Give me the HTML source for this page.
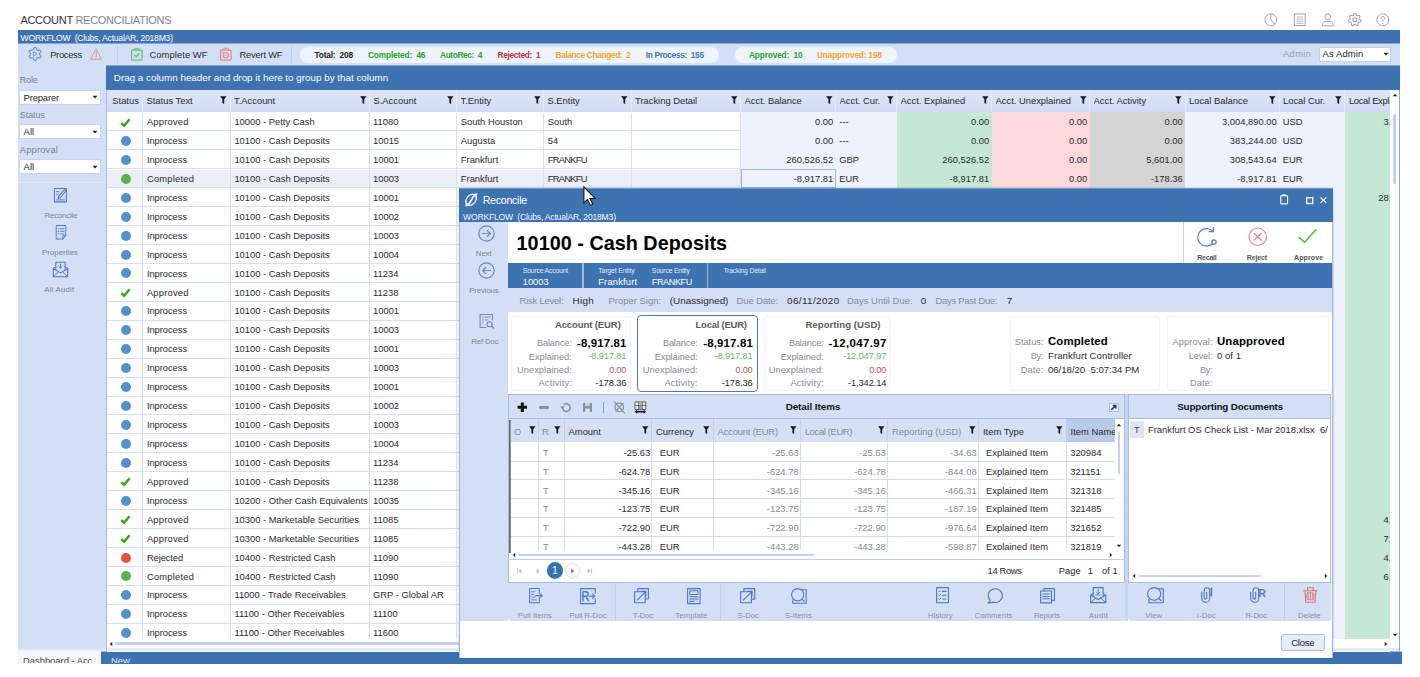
<!DOCTYPE html>
<html><head><meta charset="utf-8"><title>Account Reconciliations</title><style>
html,body{margin:0;padding:0;background:#fff;}
body{width:1420px;height:677px;position:relative;overflow:hidden;font-family:"Liberation Sans",sans-serif;}
div,svg{position:absolute;box-sizing:border-box;}
.t{white-space:nowrap;}
svg{overflow:visible;}
</style></head><body>
<div style="left:18px;top:30px;width:1382px;height:14px;background:#3d73b1;"></div>
<div style="left:18px;top:43px;width:1382px;height:1px;background:#88a9d3;"></div>
<div style="left:18px;top:44px;width:1382px;height:22px;background:#d3dff5;"></div>
<div style="left:18px;top:66px;width:88px;height:585px;background:#d3dff5;"></div>
<div style="left:106px;top:66px;width:1294px;height:24px;background:#3d73b1;"></div>
<div style="left:106px;top:65px;width:1294px;height:1px;background:#88a9d3;"></div>
<div style="left:18px;top:648.6px;width:88px;height:2.4px;background:#e6ecf9;"></div>
<div style="left:18px;top:651px;width:1384px;height:1px;background:#9db8d8;"></div>
<div style="left:18px;top:652px;width:1384px;height:11.8px;background:#3d73b1;"></div>
<div style="left:18px;top:651px;width:83px;height:12.8px;background:#f5f7fc;"></div>
<div class="t" style="left:20.4px;top:13.3px;height:14px;line-height:14px;font-size:11px;letter-spacing:-0.28px;color:#333">ACCOUNT <span style="color:#80858c">RECONCILIATIONS</span></div>
<svg style="left:1263.70px;top:13.20px" width="13.6" height="13.6" viewBox="0 0 16 16" preserveAspectRatio="none"><circle cx="8" cy="8" r="7" fill="none" stroke="#a0a0a0" stroke-width="1.1" stroke-linecap="round" stroke-linejoin="round"/><path d="M8 1 V8 L12.6 13.2" fill="none" stroke="#a0a0a0" stroke-width="1.1" stroke-linecap="round" stroke-linejoin="round"/></svg>
<svg style="left:1293.20px;top:13.20px" width="13.6" height="13.6" viewBox="0 0 16 16" preserveAspectRatio="none"><rect x="1.6" y="1.2" width="12.8" height="13.6" fill="none" stroke="#a0a0a0" stroke-width="1.2" stroke-linecap="round" stroke-linejoin="round"/><path d="M4.8 4.6H11.2M4.8 7.2H11.2M4.8 9.8H11.2M4.8 12.2H11.2" fill="none" stroke="#a0a0a0" stroke-width="0.9" stroke-linecap="round" stroke-linejoin="round"/></svg>
<svg style="left:1320.70px;top:13.20px" width="13.6" height="13.6" viewBox="0 0 16 16" preserveAspectRatio="none"><circle cx="8" cy="4.4" r="3.3" fill="none" stroke="#a0a0a0" stroke-width="1.1" stroke-linecap="round" stroke-linejoin="round"/><path d="M1.6 14.6 C1.6 10.6 4 9.8 8 9.8 S14.4 10.6 14.4 14.6Z" fill="none" stroke="#a0a0a0" stroke-width="1.1" stroke-linecap="round" stroke-linejoin="round"/></svg>
<svg style="left:1348.20px;top:13.20px" width="13.6" height="13.6" viewBox="0 0 16 16" preserveAspectRatio="none"><path d="M7.17 0.65 L8.83 0.65 L9.85 2.71 L10.98 3.26 L13.23 2.77 L14.27 4.06 L13.29 6.15 L13.56 7.37 L15.35 8.83 L14.98 10.44 L12.74 10.98 L11.96 11.96 L11.94 14.27 L10.44 14.98 L8.63 13.56 L7.37 13.56 L5.56 14.98 L4.06 14.27 L4.04 11.96 L3.26 10.98 L1.02 10.44 L0.65 8.83 L2.44 7.37 L2.71 6.15 L1.73 4.06 L2.77 2.77 L5.02 3.26 L6.15 2.71Z" fill="none" stroke="#a0a0a0" stroke-width="1.2" stroke-linecap="round" stroke-linejoin="round"/><circle cx="8" cy="8" r="2.3" fill="none" stroke="#a0a0a0" stroke-width="1.2" stroke-linecap="round" stroke-linejoin="round"/></svg>
<svg style="left:1376.20px;top:13.20px" width="13.6" height="13.6" viewBox="0 0 16 16" preserveAspectRatio="none"><circle cx="8" cy="8" r="7" fill="none" stroke="#a0a0a0" stroke-width="1.1" stroke-linecap="round" stroke-linejoin="round"/><path d="M5.6 6.2 C5.6 3.2 10.4 3.2 10.4 6.2 C10.4 8 8 7.8 8 10" fill="none" stroke="#a0a0a0" stroke-width="1.1" stroke-linecap="round" stroke-linejoin="round"/><circle cx="8" cy="12.2" r="0.8" fill="#a0a0a0"/></svg>
<div class="t" style="top:30.90px;height:14px;line-height:14px;font-size:8.6px;color:#fff;letter-spacing:-0.223px;left:20.6px;">WORKFLOW  (Clubs, ActualAR, 2018M3)</div>
<svg style="left:28.30px;top:47.00px" width="14" height="14" viewBox="0 0 16 16" preserveAspectRatio="none"><path d="M7.03 0.66 L8.97 0.66 L10.03 3.10 L11.23 3.80 L13.87 3.50 L14.84 5.17 L13.25 7.31 L13.25 8.69 L14.84 10.83 L13.87 12.50 L11.23 12.20 L10.03 12.90 L8.97 15.34 L7.03 15.34 L5.97 12.90 L4.77 12.20 L2.13 12.50 L1.16 10.83 L2.75 8.69 L2.75 7.31 L1.16 5.17 L2.13 3.50 L4.77 3.80 L5.97 3.10Z" fill="none" stroke="#7d92d2" stroke-width="1.3" stroke-linecap="round" stroke-linejoin="round"/><path d="M6.6 5.6 L10.4 8 L6.6 10.4Z" fill="none" stroke="#7d92d2" stroke-width="1.1" stroke-linecap="round" stroke-linejoin="round"/></svg>
<div class="t" style="top:47.70px;height:14px;line-height:14px;font-size:9.4px;color:#2b2b2b;letter-spacing:-0.329px;left:50.2px;">Process</div>
<svg style="left:89.80px;top:47.60px" width="12.4" height="12.4" viewBox="0 0 16 16" preserveAspectRatio="none"><path d="M8 1.5 L15 14.5 L1 14.5Z" fill="none" stroke="#e58d8d" stroke-width="1.1" stroke-linecap="round" stroke-linejoin="round"/><path d="M8 5.5V10.8" fill="none" stroke="#e58d8d" stroke-width="1.2" stroke-linecap="round" stroke-linejoin="round"/><circle cx="8" cy="12.6" r="0.7" fill="#e58d8d"/></svg>
<div style="left:117px;top:46px;width:1px;height:17px;background:#c3cfe8;"></div>
<svg style="left:129.50px;top:47.20px" width="13.6" height="13.6" viewBox="0 0 16 16" preserveAspectRatio="none"><rect x="1.8" y="3.6" width="12.4" height="11.8" rx="0.6" fill="none" stroke="#6cc46c" stroke-width="1.5" stroke-linecap="round" stroke-linejoin="round"/><path d="M5 3.6 V2.4 H6.6 A1.5 1.5 0 0 1 9.4 2.4 H11 V3.6" fill="none" stroke="#6cc46c" stroke-width="1.3" stroke-linecap="round" stroke-linejoin="round"/><path d="M5.4 9.8 L7.2 11.4 L10.6 8" fill="none" stroke="#6cc46c" stroke-width="1.7" stroke-linecap="round" stroke-linejoin="round"/></svg>
<div class="t" style="top:47.70px;height:14px;line-height:14px;font-size:9.4px;color:#2b2b2b;letter-spacing:0.069px;left:149.5px;">Complete WF</div>
<svg style="left:219.00px;top:47.20px" width="13.6" height="13.6" viewBox="0 0 16 16" preserveAspectRatio="none"><rect x="1.8" y="3.6" width="12.4" height="11.8" rx="0.6" fill="none" stroke="#e58d8d" stroke-width="1.5" stroke-linecap="round" stroke-linejoin="round"/><path d="M4.6 3.6 V2.4 H6.4 A1.7 1.7 0 0 1 9.6 2.4 H11.4 V3.6" fill="none" stroke="#e58d8d" stroke-width="1.3" stroke-linecap="round" stroke-linejoin="round"/><circle cx="8" cy="9.6" r="3.1" fill="none" stroke="#e58d8d" stroke-width="1.3" stroke-linecap="round" stroke-linejoin="round"/><path d="M6.6 9.4 L7.7 10.5 L9.5 8.6" fill="none" stroke="#e58d8d" stroke-width="1.1" stroke-linecap="round" stroke-linejoin="round"/><path d="M4.6 6.4 L5.6 7.4" fill="none" stroke="#e58d8d" stroke-width="1.2" stroke-linecap="round" stroke-linejoin="round"/></svg>
<div class="t" style="top:47.70px;height:14px;line-height:14px;font-size:9.4px;color:#2b2b2b;letter-spacing:-0.225px;left:239.5px;">Revert WF</div>
<div style="left:291px;top:46px;width:1px;height:17px;background:#c3cfe8;"></div>
<div style="left:300px;top:46.5px;width:419px;height:16px;background:#eff3fc;border-radius:8px;"></div>
<div style="left:734.5px;top:46.5px;width:162.5px;height:16px;background:#eff3fc;border-radius:8px;"></div>
<div class="t" style="top:47.70px;height:14px;line-height:14px;font-size:8.3px;color:#222;font-weight:bold;letter-spacing:-0.192px;left:314.5px;">Total:  208</div>
<div class="t" style="top:47.70px;height:14px;line-height:14px;font-size:8.3px;color:#27a527;font-weight:bold;letter-spacing:-0.153px;left:368px;">Completed:  46</div>
<div class="t" style="top:47.70px;height:14px;line-height:14px;font-size:8.3px;color:#27a527;font-weight:bold;letter-spacing:-0.361px;left:440px;">AutoRec:  4</div>
<div class="t" style="top:47.70px;height:14px;line-height:14px;font-size:8.3px;color:#b8333b;font-weight:bold;letter-spacing:-0.325px;left:497.5px;">Rejected:  1</div>
<div class="t" style="top:47.70px;height:14px;line-height:14px;font-size:8.3px;color:#f5a728;font-weight:bold;letter-spacing:-0.351px;left:555.5px;">Balance Changed:  2</div>
<div class="t" style="top:47.70px;height:14px;line-height:14px;font-size:8.3px;color:#3f76ba;font-weight:bold;letter-spacing:-0.332px;left:645.8px;">In Process:  155</div>
<div class="t" style="top:47.70px;height:14px;line-height:14px;font-size:8.3px;color:#27a527;font-weight:bold;letter-spacing:-0.152px;left:749px;">Approved:  10</div>
<div class="t" style="top:47.70px;height:14px;line-height:14px;font-size:8.3px;color:#f5a728;font-weight:bold;letter-spacing:-0.166px;left:817px;">Unapproved: 198</div>
<div class="t" style="top:47.40px;height:14px;line-height:14px;font-size:9.4px;color:#9aa0a8;letter-spacing:0.355px;left:1283px;">Admin</div>
<div style="left:1318.8px;top:47px;width:72.4px;height:14.5px;background:#fff;border:1px solid #c3cfe8;"></div>
<div class="t" style="top:47.40px;height:14px;line-height:14px;font-size:9.4px;color:#222;letter-spacing:0.156px;left:1322.5px;">As Admin</div>
<svg style="left:1386px;top:54.4px" width="1" height="1"><polygon points="-2.5,-1.375 2.5,-1.375 0,1.375" fill="#222"/></svg>
<div class="t" style="top:73.20px;height:14px;line-height:14px;font-size:9.0px;color:#7d828a;letter-spacing:-0.172px;left:19.8px;">Role</div>
<div class="t" style="top:107.80px;height:14px;line-height:14px;font-size:9.0px;color:#7d828a;letter-spacing:-0.063px;left:19.8px;">Status</div>
<div class="t" style="top:142.50px;height:14px;line-height:14px;font-size:9.2px;color:#7d828a;letter-spacing:0.248px;left:19.8px;">Approval</div>
<div style="left:19.4px;top:89.8px;width:81.6px;height:15px;background:#fff;border:1px solid #c9d5ee;"></div>
<div class="t" style="top:90.50px;height:14px;line-height:14px;font-size:9.4px;color:#222;letter-spacing:-0.141px;left:23.6px;">Preparer</div>
<svg style="left:95.2px;top:97.2px" width="1" height="1"><polygon points="-2.5,-1.375 2.5,-1.375 0,1.375" fill="#222"/></svg>
<div style="left:19.4px;top:124.19999999999999px;width:81.6px;height:15px;background:#fff;border:1px solid #c9d5ee;"></div>
<div class="t" style="top:124.90px;height:14px;line-height:14px;font-size:9.4px;color:#222;letter-spacing:0.089px;left:23.6px;">All</div>
<svg style="left:95.2px;top:131.6px" width="1" height="1"><polygon points="-2.5,-1.375 2.5,-1.375 0,1.375" fill="#222"/></svg>
<div style="left:19.4px;top:159.2px;width:81.6px;height:15px;background:#fff;border:1px solid #c9d5ee;"></div>
<div class="t" style="top:159.90px;height:14px;line-height:14px;font-size:9.4px;color:#222;letter-spacing:0.089px;left:23.6px;">All</div>
<svg style="left:95.2px;top:166.6px" width="1" height="1"><polygon points="-2.5,-1.375 2.5,-1.375 0,1.375" fill="#222"/></svg>
<div style="left:18px;top:182.3px;width:88px;height:1px;background:#dfe7f8;"></div>
<svg style="left:52.90px;top:186.50px" width="14.8" height="16.4" viewBox="0 0 16 16" preserveAspectRatio="none"><path d="M1.5 1.5 H14.5 V14.5 H1.5Z" fill="none" stroke="#5078c2" stroke-width="1.1" stroke-linecap="round" stroke-linejoin="round"/><path d="M6 9.2 L12.6 2.4 L14 3.8 L7.6 10.6 L5.6 11.2Z" fill="#d3dff5" stroke="#5078c2" stroke-width="1.0" stroke-linecap="round" stroke-linejoin="round"/><path d="M3.5 4.5H6.5M3.5 12.6H12.5M3.5 7H5.5" fill="none" stroke="#5078c2" stroke-width="0.9" stroke-linecap="round" stroke-linejoin="round"/></svg>
<div class="t" style="top:208.90px;height:14px;line-height:14px;font-size:7.8px;color:#7d828a;letter-spacing:-0.156px;left:-89.08px;width:300px;text-align:center;">Reconcile</div>
<svg style="left:53.70px;top:223.90px" width="14" height="16.6" viewBox="0 0 16 16" preserveAspectRatio="none"><path d="M2.5 1.5 H13.5 V11 L10 14.5 H2.5Z" fill="none" stroke="#5078c2" stroke-width="1.0" stroke-linecap="round" stroke-linejoin="round"/><path d="M13.5 11 H10 V14.5" fill="none" stroke="#5078c2" stroke-width="0.9" stroke-linecap="round" stroke-linejoin="round"/><path d="M7 4.5H11.5M7 7H11.5M7 9.5H11.5" fill="none" stroke="#5078c2" stroke-width="0.9" stroke-linecap="round" stroke-linejoin="round"/><path d="M4.5 4.5H5.3M4.5 7H5.3M4.5 9.5H5.3" fill="none" stroke="#5078c2" stroke-width="1.0" stroke-linecap="round" stroke-linejoin="round"/></svg>
<div class="t" style="top:245.80px;height:14px;line-height:14px;font-size:7.8px;color:#7d828a;letter-spacing:0.05px;left:-89.97px;width:300px;text-align:center;">Properties</div>
<svg style="left:51.80px;top:260.80px" width="17" height="16.8" viewBox="0 0 16 16" preserveAspectRatio="none"><path d="M1.2 7 L8 11.3 L14.8 7 V15 H1.2Z" fill="none" stroke="#5078c2" stroke-width="1.0" stroke-linecap="round" stroke-linejoin="round"/><path d="M1.2 15 L6.2 10.2 M14.8 15 L9.8 10.2" fill="none" stroke="#5078c2" stroke-width="0.9" stroke-linecap="round" stroke-linejoin="round"/><path d="M3.6 8.4 V1.2 H12.4 V8.4" fill="none" stroke="#5078c2" stroke-width="1.0" stroke-linecap="round" stroke-linejoin="round"/><path d="M8 3 V6.6 M6.4 5.2 L8 6.8 L9.6 5.2" fill="none" stroke="#5078c2" stroke-width="0.9" stroke-linecap="round" stroke-linejoin="round"/><path d="M1.2 7 L3.6 5.4 M14.8 7 L12.4 5.4" fill="none" stroke="#5078c2" stroke-width="0.9" stroke-linecap="round" stroke-linejoin="round"/></svg>
<div class="t" style="top:283.20px;height:14px;line-height:14px;font-size:7.8px;color:#7d828a;letter-spacing:0.227px;left:-90.69px;width:300px;text-align:center;">All Audit</div>
<div class="t" style="top:655.00px;height:12px;line-height:12px;font-size:9.4px;color:#444;left:23px;width:74px;overflow:hidden;top:654px;height:9px;line-height:14px;">Dashboard - Acc</div>
<div class="t" style="top:655.00px;height:12px;line-height:12px;font-size:9.4px;color:#dfe8f7;left:111px;top:654px;height:9px;line-height:14px;overflow:hidden;">New</div>
<div class="t" style="top:71.00px;height:14px;line-height:14px;font-size:9.8px;color:#fff;letter-spacing:0.015px;left:113.8px;">Drag a column header and drop it here to group by that column</div>
<div style="left:106px;top:90px;width:1294px;height:561px;background:#fff;border-left:1px solid #a8bce2;border-right:1px solid #8fa9d8;"></div>
<div style="left:107px;top:90px;width:1283px;height:22px;background:linear-gradient(#dde6f7,#d0dcf4);"></div>
<div class="t" style="top:94.20px;height:14px;line-height:14px;font-size:9.4px;color:#2a2a2a;left:112.3px;">Status</div>
<div style="left:142.0px;top:90px;width:1px;height:22px;background:#e3eaf8;"></div>
<div class="t" style="top:94.20px;height:14px;line-height:14px;font-size:9.4px;color:#2a2a2a;left:146.5px;width:82.4px;overflow:hidden;">Status Text</div>
<svg style="left:220.1px;top:96.0px" width="6.6" height="8.4" viewBox="0 0 6.6 8.4"><path d="M0.1 0.3 H6.5 L4.2 3.3 V8.1 L2.4 6.9 V3.3Z" fill="#1a1a1a"/></svg>
<div style="left:229.5px;top:90px;width:1px;height:22px;background:#e3eaf8;"></div>
<div class="t" style="top:94.20px;height:14px;line-height:14px;font-size:9.4px;color:#2a2a2a;left:234.0px;width:134.4px;overflow:hidden;">T.Account</div>
<svg style="left:359.59999999999997px;top:96.0px" width="6.6" height="8.4" viewBox="0 0 6.6 8.4"><path d="M0.1 0.3 H6.5 L4.2 3.3 V8.1 L2.4 6.9 V3.3Z" fill="#1a1a1a"/></svg>
<div style="left:369.0px;top:90px;width:1px;height:22px;background:#e3eaf8;"></div>
<div class="t" style="top:94.20px;height:14px;line-height:14px;font-size:9.4px;color:#2a2a2a;left:373.5px;width:81.9px;overflow:hidden;">S.Account</div>
<svg style="left:446.59999999999997px;top:96.0px" width="6.6" height="8.4" viewBox="0 0 6.6 8.4"><path d="M0.1 0.3 H6.5 L4.2 3.3 V8.1 L2.4 6.9 V3.3Z" fill="#1a1a1a"/></svg>
<div style="left:456.0px;top:90px;width:1px;height:22px;background:#e3eaf8;"></div>
<div class="t" style="top:94.20px;height:14px;line-height:14px;font-size:9.4px;color:#2a2a2a;left:460.5px;width:81.9px;overflow:hidden;">T.Entity</div>
<svg style="left:533.6px;top:96.0px" width="6.6" height="8.4" viewBox="0 0 6.6 8.4"><path d="M0.1 0.3 H6.5 L4.2 3.3 V8.1 L2.4 6.9 V3.3Z" fill="#1a1a1a"/></svg>
<div style="left:543.0px;top:90px;width:1px;height:22px;background:#e3eaf8;"></div>
<div class="t" style="top:94.20px;height:14px;line-height:14px;font-size:9.4px;color:#2a2a2a;left:547.5px;width:82.4px;overflow:hidden;">S.Entity</div>
<svg style="left:621.1px;top:96.0px" width="6.6" height="8.4" viewBox="0 0 6.6 8.4"><path d="M0.1 0.3 H6.5 L4.2 3.3 V8.1 L2.4 6.9 V3.3Z" fill="#1a1a1a"/></svg>
<div style="left:630.5px;top:90px;width:1px;height:22px;background:#e3eaf8;"></div>
<div class="t" style="top:94.20px;height:14px;line-height:14px;font-size:9.4px;color:#2a2a2a;left:635.0px;width:104.4px;overflow:hidden;">Tracking Detail</div>
<svg style="left:730.6px;top:96.0px" width="6.6" height="8.4" viewBox="0 0 6.6 8.4"><path d="M0.1 0.3 H6.5 L4.2 3.3 V8.1 L2.4 6.9 V3.3Z" fill="#1a1a1a"/></svg>
<div style="left:740.0px;top:90px;width:1px;height:22px;background:#e3eaf8;"></div>
<div class="t" style="top:94.20px;height:14px;line-height:14px;font-size:9.4px;color:#2a2a2a;left:744.5px;width:89.9px;overflow:hidden;">Acct. Balance</div>
<svg style="left:825.6px;top:96.0px" width="6.6" height="8.4" viewBox="0 0 6.6 8.4"><path d="M0.1 0.3 H6.5 L4.2 3.3 V8.1 L2.4 6.9 V3.3Z" fill="#1a1a1a"/></svg>
<div style="left:835.0px;top:90px;width:1px;height:22px;background:#e3eaf8;"></div>
<div class="t" style="top:94.20px;height:14px;line-height:14px;font-size:9.4px;color:#2a2a2a;left:839.5px;width:55.9px;overflow:hidden;">Acct. Cur.</div>
<svg style="left:886.6px;top:96.0px" width="6.6" height="8.4" viewBox="0 0 6.6 8.4"><path d="M0.1 0.3 H6.5 L4.2 3.3 V8.1 L2.4 6.9 V3.3Z" fill="#1a1a1a"/></svg>
<div style="left:896.0px;top:90px;width:1px;height:22px;background:#e3eaf8;"></div>
<div class="t" style="top:94.20px;height:14px;line-height:14px;font-size:9.4px;color:#2a2a2a;left:900.5px;width:89.9px;overflow:hidden;">Acct. Explained</div>
<svg style="left:981.6px;top:96.0px" width="6.6" height="8.4" viewBox="0 0 6.6 8.4"><path d="M0.1 0.3 H6.5 L4.2 3.3 V8.1 L2.4 6.9 V3.3Z" fill="#1a1a1a"/></svg>
<div style="left:991.0px;top:90px;width:1px;height:22px;background:#e3eaf8;"></div>
<div class="t" style="top:94.20px;height:14px;line-height:14px;font-size:9.4px;color:#2a2a2a;left:995.5px;width:92.9px;overflow:hidden;">Acct. Unexplained</div>
<svg style="left:1079.6000000000001px;top:96.0px" width="6.6" height="8.4" viewBox="0 0 6.6 8.4"><path d="M0.1 0.3 H6.5 L4.2 3.3 V8.1 L2.4 6.9 V3.3Z" fill="#1a1a1a"/></svg>
<div style="left:1089.0px;top:90px;width:1px;height:22px;background:#e3eaf8;"></div>
<div class="t" style="top:94.20px;height:14px;line-height:14px;font-size:9.4px;color:#2a2a2a;left:1093.5px;width:90.4px;overflow:hidden;">Acct. Activity</div>
<svg style="left:1175.1000000000001px;top:96.0px" width="6.6" height="8.4" viewBox="0 0 6.6 8.4"><path d="M0.1 0.3 H6.5 L4.2 3.3 V8.1 L2.4 6.9 V3.3Z" fill="#1a1a1a"/></svg>
<div style="left:1184.5px;top:90px;width:1px;height:22px;background:#e3eaf8;"></div>
<div class="t" style="top:94.20px;height:14px;line-height:14px;font-size:9.4px;color:#2a2a2a;left:1189.0px;width:88.9px;overflow:hidden;">Local Balance</div>
<svg style="left:1269.1000000000001px;top:96.0px" width="6.6" height="8.4" viewBox="0 0 6.6 8.4"><path d="M0.1 0.3 H6.5 L4.2 3.3 V8.1 L2.4 6.9 V3.3Z" fill="#1a1a1a"/></svg>
<div style="left:1278.5px;top:90px;width:1px;height:22px;background:#e3eaf8;"></div>
<div class="t" style="top:94.20px;height:14px;line-height:14px;font-size:9.4px;color:#2a2a2a;left:1283.0px;width:60.4px;overflow:hidden;">Local Cur.</div>
<svg style="left:1334.6000000000001px;top:96.0px" width="6.6" height="8.4" viewBox="0 0 6.6 8.4"><path d="M0.1 0.3 H6.5 L4.2 3.3 V8.1 L2.4 6.9 V3.3Z" fill="#1a1a1a"/></svg>
<div style="left:1344.0px;top:90px;width:1px;height:22px;background:#e3eaf8;"></div>
<div class="t" style="top:94.20px;height:14px;line-height:14px;font-size:9.4px;color:#2a2a2a;letter-spacing:-0.296px;left:1348.9px;">Local Expl</div>
<div style="left:107px;top:169.505px;width:633.5px;height:18.935px;background:#ebeef5;"></div>
<div style="left:740.5px;top:112px;width:95.0px;height:527px;background:#edf2fc;"></div>
<div style="left:835.5px;top:112px;width:61.0px;height:527px;background:#edf2fc;"></div>
<div style="left:896.5px;top:112px;width:95.0px;height:527px;background:#c6e7d6;"></div>
<div style="left:991.5px;top:112px;width:98.0px;height:527px;background:#fbdadb;"></div>
<div style="left:1089.5px;top:112px;width:95.5px;height:527px;background:#d4d4d4;"></div>
<div style="left:1185px;top:112px;width:94px;height:527px;background:#edf2fc;"></div>
<div style="left:1279px;top:112px;width:65.5px;height:527px;background:#edf2fc;"></div>
<div style="left:1344.5px;top:112px;width:45.5px;height:527px;background:#c6e7d6;"></div>
<div style="left:107px;top:130.435px;width:633.5px;height:1px;background:#d6e0f3;"></div>
<div style="left:107px;top:149.37px;width:633.5px;height:1px;background:#d6e0f3;"></div>
<div style="left:107px;top:168.305px;width:633.5px;height:1px;background:#d6e0f3;"></div>
<div style="left:107px;top:187.24px;width:633.5px;height:1px;background:#d6e0f3;"></div>
<div style="left:107px;top:206.175px;width:633.5px;height:1px;background:#d6e0f3;"></div>
<div style="left:107px;top:225.11px;width:633.5px;height:1px;background:#d6e0f3;"></div>
<div style="left:107px;top:244.04500000000002px;width:633.5px;height:1px;background:#d6e0f3;"></div>
<div style="left:107px;top:262.98px;width:633.5px;height:1px;background:#d6e0f3;"></div>
<div style="left:107px;top:281.915px;width:633.5px;height:1px;background:#d6e0f3;"></div>
<div style="left:107px;top:300.85px;width:633.5px;height:1px;background:#d6e0f3;"></div>
<div style="left:107px;top:319.785px;width:633.5px;height:1px;background:#d6e0f3;"></div>
<div style="left:107px;top:338.71999999999997px;width:633.5px;height:1px;background:#d6e0f3;"></div>
<div style="left:107px;top:357.655px;width:633.5px;height:1px;background:#d6e0f3;"></div>
<div style="left:107px;top:376.59px;width:633.5px;height:1px;background:#d6e0f3;"></div>
<div style="left:107px;top:395.525px;width:633.5px;height:1px;background:#d6e0f3;"></div>
<div style="left:107px;top:414.46px;width:633.5px;height:1px;background:#d6e0f3;"></div>
<div style="left:107px;top:433.395px;width:633.5px;height:1px;background:#d6e0f3;"></div>
<div style="left:107px;top:452.33px;width:633.5px;height:1px;background:#d6e0f3;"></div>
<div style="left:107px;top:471.265px;width:633.5px;height:1px;background:#d6e0f3;"></div>
<div style="left:107px;top:490.2px;width:633.5px;height:1px;background:#d6e0f3;"></div>
<div style="left:107px;top:509.135px;width:633.5px;height:1px;background:#d6e0f3;"></div>
<div style="left:107px;top:528.0699999999999px;width:633.5px;height:1px;background:#d6e0f3;"></div>
<div style="left:107px;top:547.005px;width:633.5px;height:1px;background:#d6e0f3;"></div>
<div style="left:107px;top:565.9399999999999px;width:633.5px;height:1px;background:#d6e0f3;"></div>
<div style="left:107px;top:584.8749999999999px;width:633.5px;height:1px;background:#d6e0f3;"></div>
<div style="left:107px;top:603.81px;width:633.5px;height:1px;background:#d6e0f3;"></div>
<div style="left:107px;top:622.7449999999999px;width:633.5px;height:1px;background:#d6e0f3;"></div>
<div style="left:142.0px;top:112.7px;width:1px;height:526.3px;background:#d6e0f3;"></div>
<div style="left:229.5px;top:112.7px;width:1px;height:526.3px;background:#d6e0f3;"></div>
<div style="left:369.0px;top:112.7px;width:1px;height:526.3px;background:#d6e0f3;"></div>
<div style="left:456.0px;top:112.7px;width:1px;height:526.3px;background:#d6e0f3;"></div>
<div style="left:543.0px;top:112.7px;width:1px;height:526.3px;background:#d6e0f3;"></div>
<div style="left:630.5px;top:112.7px;width:1px;height:526.3px;background:#d6e0f3;"></div>
<div style="left:740.0px;top:112.7px;width:1px;height:526.3px;background:#d6e0f3;"></div>
<div style="left:740.5px;top:169.005px;width:95.5px;height:18.935px;border:1px solid #9fb5e0;"></div>
<div style="left:0;top:0;width:1420px;height:639px;overflow:hidden">
<svg style="left:120.4px;top:117.50px" width="10.6" height="9" viewBox="0 0 10.6 9"><path d="M1.3 5.2 L4.1 7.8 L9.6 1.3" fill="none" stroke="#36a712" stroke-width="2.5" stroke-linejoin="miter"/></svg>
<div class="t" style="top:115.10px;height:14px;line-height:14px;font-size:9.4px;color:#2a2a2a;letter-spacing:0.208px;left:146.9px;">Approved</div>
<div class="t" style="top:115.10px;height:14px;line-height:14px;font-size:9.4px;color:#2a2a2a;left:234.4px;width:134.6px;overflow:hidden;">10000 - Petty Cash</div>
<div class="t" style="top:115.10px;height:14px;line-height:14px;font-size:9.4px;color:#2a2a2a;left:373.0px;">11080</div>
<div class="t" style="top:115.10px;height:14px;line-height:14px;font-size:9.4px;color:#2a2a2a;left:460.8px;">South Houston</div>
<div class="t" style="top:115.10px;height:14px;line-height:14px;font-size:9.4px;color:#2a2a2a;left:547.8px;">South</div>
<div class="t" style="top:115.10px;height:14px;line-height:14px;font-size:9.4px;color:#2a2a2a;right:586.80px;text-align:right;">0.00</div>
<div class="t" style="top:115.10px;height:14px;line-height:14px;font-size:9.4px;color:#2a2a2a;left:839.3px;">---</div>
<div class="t" style="top:115.10px;height:14px;line-height:14px;font-size:9.4px;color:#2a2a2a;right:430.80px;text-align:right;">0.00</div>
<div class="t" style="top:115.10px;height:14px;line-height:14px;font-size:9.4px;color:#2a2a2a;right:332.80px;text-align:right;">0.00</div>
<div class="t" style="top:115.10px;height:14px;line-height:14px;font-size:9.4px;color:#2a2a2a;right:237.30px;text-align:right;">0.00</div>
<div class="t" style="top:115.10px;height:14px;line-height:14px;font-size:9.4px;color:#2a2a2a;right:143.30px;text-align:right;">3,004,890.00</div>
<div class="t" style="top:115.10px;height:14px;line-height:14px;font-size:9.4px;color:#2a2a2a;left:1282.8px;">USD</div>
<div class="t" style="top:115.10px;height:14px;line-height:14px;font-size:9.4px;color:#2a2a2a;right:28.60px;text-align:right;">3,</div>
<div style="left:120.8px;top:135.94px;width:10px;height:10px;border-radius:50%;background:#568fcd"></div>
<div class="t" style="top:134.03px;height:14px;line-height:14px;font-size:9.4px;color:#2a2a2a;letter-spacing:-0.057px;left:146.9px;">Inprocess</div>
<div class="t" style="top:134.03px;height:14px;line-height:14px;font-size:9.4px;color:#2a2a2a;left:234.4px;width:134.6px;overflow:hidden;">10100 - Cash Deposits</div>
<div class="t" style="top:134.03px;height:14px;line-height:14px;font-size:9.4px;color:#2a2a2a;left:373.0px;">10015</div>
<div class="t" style="top:134.03px;height:14px;line-height:14px;font-size:9.4px;color:#2a2a2a;left:460.8px;">Augusta</div>
<div class="t" style="top:134.03px;height:14px;line-height:14px;font-size:9.4px;color:#2a2a2a;left:547.8px;">54</div>
<div class="t" style="top:134.03px;height:14px;line-height:14px;font-size:9.4px;color:#2a2a2a;right:586.80px;text-align:right;">0.00</div>
<div class="t" style="top:134.03px;height:14px;line-height:14px;font-size:9.4px;color:#2a2a2a;left:839.3px;">---</div>
<div class="t" style="top:134.03px;height:14px;line-height:14px;font-size:9.4px;color:#2a2a2a;right:430.80px;text-align:right;">0.00</div>
<div class="t" style="top:134.03px;height:14px;line-height:14px;font-size:9.4px;color:#2a2a2a;right:332.80px;text-align:right;">0.00</div>
<div class="t" style="top:134.03px;height:14px;line-height:14px;font-size:9.4px;color:#2a2a2a;right:237.30px;text-align:right;">0.00</div>
<div class="t" style="top:134.03px;height:14px;line-height:14px;font-size:9.4px;color:#2a2a2a;right:143.30px;text-align:right;">383,244.00</div>
<div class="t" style="top:134.03px;height:14px;line-height:14px;font-size:9.4px;color:#2a2a2a;left:1282.8px;">USD</div>
<div style="left:120.8px;top:154.87px;width:10px;height:10px;border-radius:50%;background:#568fcd"></div>
<div class="t" style="top:152.97px;height:14px;line-height:14px;font-size:9.4px;color:#2a2a2a;letter-spacing:-0.057px;left:146.9px;">Inprocess</div>
<div class="t" style="top:152.97px;height:14px;line-height:14px;font-size:9.4px;color:#2a2a2a;left:234.4px;width:134.6px;overflow:hidden;">10100 - Cash Deposits</div>
<div class="t" style="top:152.97px;height:14px;line-height:14px;font-size:9.4px;color:#2a2a2a;left:373.0px;">10001</div>
<div class="t" style="top:152.97px;height:14px;line-height:14px;font-size:9.4px;color:#2a2a2a;left:460.8px;">Frankfurt</div>
<div class="t" style="top:152.97px;height:14px;line-height:14px;font-size:9.4px;color:#2a2a2a;letter-spacing:-0.747px;left:547.8px;">FRANKFU</div>
<div class="t" style="top:152.97px;height:14px;line-height:14px;font-size:9.4px;color:#2a2a2a;right:586.80px;text-align:right;">260,526.52</div>
<div class="t" style="top:152.97px;height:14px;line-height:14px;font-size:9.4px;color:#2a2a2a;left:839.3px;">GBP</div>
<div class="t" style="top:152.97px;height:14px;line-height:14px;font-size:9.4px;color:#2a2a2a;right:430.80px;text-align:right;">260,526.52</div>
<div class="t" style="top:152.97px;height:14px;line-height:14px;font-size:9.4px;color:#2a2a2a;right:332.80px;text-align:right;">0.00</div>
<div class="t" style="top:152.97px;height:14px;line-height:14px;font-size:9.4px;color:#2a2a2a;right:237.30px;text-align:right;">5,601.00</div>
<div class="t" style="top:152.97px;height:14px;line-height:14px;font-size:9.4px;color:#2a2a2a;right:143.30px;text-align:right;">308,543.64</div>
<div class="t" style="top:152.97px;height:14px;line-height:14px;font-size:9.4px;color:#2a2a2a;left:1282.8px;">EUR</div>
<div style="left:120.8px;top:173.81px;width:10px;height:10px;border-radius:50%;background:#58b24d"></div>
<div class="t" style="top:171.91px;height:14px;line-height:14px;font-size:9.4px;color:#2a2a2a;letter-spacing:0.22px;left:146.9px;">Completed</div>
<div class="t" style="top:171.91px;height:14px;line-height:14px;font-size:9.4px;color:#2a2a2a;left:234.4px;width:134.6px;overflow:hidden;">10100 - Cash Deposits</div>
<div class="t" style="top:171.91px;height:14px;line-height:14px;font-size:9.4px;color:#2a2a2a;left:373.0px;">10003</div>
<div class="t" style="top:171.91px;height:14px;line-height:14px;font-size:9.4px;color:#2a2a2a;left:460.8px;">Frankfurt</div>
<div class="t" style="top:171.91px;height:14px;line-height:14px;font-size:9.4px;color:#2a2a2a;letter-spacing:-0.747px;left:547.8px;">FRANKFU</div>
<div class="t" style="top:171.91px;height:14px;line-height:14px;font-size:9.4px;color:#2a2a2a;right:586.80px;text-align:right;">-8,917.81</div>
<div class="t" style="top:171.91px;height:14px;line-height:14px;font-size:9.4px;color:#2a2a2a;left:839.3px;">EUR</div>
<div class="t" style="top:171.91px;height:14px;line-height:14px;font-size:9.4px;color:#2a2a2a;right:430.80px;text-align:right;">-8,917.81</div>
<div class="t" style="top:171.91px;height:14px;line-height:14px;font-size:9.4px;color:#2a2a2a;right:332.80px;text-align:right;">0.00</div>
<div class="t" style="top:171.91px;height:14px;line-height:14px;font-size:9.4px;color:#2a2a2a;right:237.30px;text-align:right;">-178.36</div>
<div class="t" style="top:171.91px;height:14px;line-height:14px;font-size:9.4px;color:#2a2a2a;right:143.30px;text-align:right;">-8,917.81</div>
<div class="t" style="top:171.91px;height:14px;line-height:14px;font-size:9.4px;color:#2a2a2a;left:1282.8px;">EUR</div>
<div style="left:120.8px;top:192.74px;width:10px;height:10px;border-radius:50%;background:#568fcd"></div>
<div class="t" style="top:190.84px;height:14px;line-height:14px;font-size:9.4px;color:#2a2a2a;letter-spacing:-0.057px;left:146.9px;">Inprocess</div>
<div class="t" style="top:190.84px;height:14px;line-height:14px;font-size:9.4px;color:#2a2a2a;left:234.4px;width:134.6px;overflow:hidden;">10100 - Cash Deposits</div>
<div class="t" style="top:190.84px;height:14px;line-height:14px;font-size:9.4px;color:#2a2a2a;left:373.0px;">10001</div>
<div class="t" style="top:190.84px;height:14px;line-height:14px;font-size:9.4px;color:#2a2a2a;left:460.8px;"></div>
<div class="t" style="top:190.84px;height:14px;line-height:14px;font-size:9.4px;color:#2a2a2a;left:547.8px;"></div>
<div class="t" style="top:190.84px;height:14px;line-height:14px;font-size:9.4px;color:#2a2a2a;right:28.60px;text-align:right;">28,</div>
<div style="left:120.8px;top:211.68px;width:10px;height:10px;border-radius:50%;background:#568fcd"></div>
<div class="t" style="top:209.78px;height:14px;line-height:14px;font-size:9.4px;color:#2a2a2a;letter-spacing:-0.057px;left:146.9px;">Inprocess</div>
<div class="t" style="top:209.78px;height:14px;line-height:14px;font-size:9.4px;color:#2a2a2a;left:234.4px;width:134.6px;overflow:hidden;">10100 - Cash Deposits</div>
<div class="t" style="top:209.78px;height:14px;line-height:14px;font-size:9.4px;color:#2a2a2a;left:373.0px;">10002</div>
<div class="t" style="top:209.78px;height:14px;line-height:14px;font-size:9.4px;color:#2a2a2a;left:460.8px;"></div>
<div class="t" style="top:209.78px;height:14px;line-height:14px;font-size:9.4px;color:#2a2a2a;left:547.8px;"></div>
<div style="left:120.8px;top:230.61px;width:10px;height:10px;border-radius:50%;background:#568fcd"></div>
<div class="t" style="top:228.71px;height:14px;line-height:14px;font-size:9.4px;color:#2a2a2a;letter-spacing:-0.057px;left:146.9px;">Inprocess</div>
<div class="t" style="top:228.71px;height:14px;line-height:14px;font-size:9.4px;color:#2a2a2a;left:234.4px;width:134.6px;overflow:hidden;">10100 - Cash Deposits</div>
<div class="t" style="top:228.71px;height:14px;line-height:14px;font-size:9.4px;color:#2a2a2a;left:373.0px;">10003</div>
<div class="t" style="top:228.71px;height:14px;line-height:14px;font-size:9.4px;color:#2a2a2a;left:460.8px;"></div>
<div class="t" style="top:228.71px;height:14px;line-height:14px;font-size:9.4px;color:#2a2a2a;left:547.8px;"></div>
<div style="left:120.8px;top:249.55px;width:10px;height:10px;border-radius:50%;background:#568fcd"></div>
<div class="t" style="top:247.65px;height:14px;line-height:14px;font-size:9.4px;color:#2a2a2a;letter-spacing:-0.057px;left:146.9px;">Inprocess</div>
<div class="t" style="top:247.65px;height:14px;line-height:14px;font-size:9.4px;color:#2a2a2a;left:234.4px;width:134.6px;overflow:hidden;">10100 - Cash Deposits</div>
<div class="t" style="top:247.65px;height:14px;line-height:14px;font-size:9.4px;color:#2a2a2a;left:373.0px;">10004</div>
<div class="t" style="top:247.65px;height:14px;line-height:14px;font-size:9.4px;color:#2a2a2a;left:460.8px;"></div>
<div class="t" style="top:247.65px;height:14px;line-height:14px;font-size:9.4px;color:#2a2a2a;left:547.8px;"></div>
<div style="left:120.8px;top:268.48px;width:10px;height:10px;border-radius:50%;background:#568fcd"></div>
<div class="t" style="top:266.58px;height:14px;line-height:14px;font-size:9.4px;color:#2a2a2a;letter-spacing:-0.057px;left:146.9px;">Inprocess</div>
<div class="t" style="top:266.58px;height:14px;line-height:14px;font-size:9.4px;color:#2a2a2a;left:234.4px;width:134.6px;overflow:hidden;">10100 - Cash Deposits</div>
<div class="t" style="top:266.58px;height:14px;line-height:14px;font-size:9.4px;color:#2a2a2a;left:373.0px;">11234</div>
<div class="t" style="top:266.58px;height:14px;line-height:14px;font-size:9.4px;color:#2a2a2a;left:460.8px;"></div>
<div class="t" style="top:266.58px;height:14px;line-height:14px;font-size:9.4px;color:#2a2a2a;left:547.8px;"></div>
<svg style="left:120.4px;top:287.91px" width="10.6" height="9" viewBox="0 0 10.6 9"><path d="M1.3 5.2 L4.1 7.8 L9.6 1.3" fill="none" stroke="#36a712" stroke-width="2.5" stroke-linejoin="miter"/></svg>
<div class="t" style="top:285.51px;height:14px;line-height:14px;font-size:9.4px;color:#2a2a2a;letter-spacing:0.208px;left:146.9px;">Approved</div>
<div class="t" style="top:285.51px;height:14px;line-height:14px;font-size:9.4px;color:#2a2a2a;left:234.4px;width:134.6px;overflow:hidden;">10100 - Cash Deposits</div>
<div class="t" style="top:285.51px;height:14px;line-height:14px;font-size:9.4px;color:#2a2a2a;left:373.0px;">11238</div>
<div class="t" style="top:285.51px;height:14px;line-height:14px;font-size:9.4px;color:#2a2a2a;left:460.8px;"></div>
<div class="t" style="top:285.51px;height:14px;line-height:14px;font-size:9.4px;color:#2a2a2a;left:547.8px;"></div>
<div style="left:120.8px;top:306.35px;width:10px;height:10px;border-radius:50%;background:#568fcd"></div>
<div class="t" style="top:304.45px;height:14px;line-height:14px;font-size:9.4px;color:#2a2a2a;letter-spacing:-0.057px;left:146.9px;">Inprocess</div>
<div class="t" style="top:304.45px;height:14px;line-height:14px;font-size:9.4px;color:#2a2a2a;left:234.4px;width:134.6px;overflow:hidden;">10100 - Cash Deposits</div>
<div class="t" style="top:304.45px;height:14px;line-height:14px;font-size:9.4px;color:#2a2a2a;left:373.0px;">10001</div>
<div class="t" style="top:304.45px;height:14px;line-height:14px;font-size:9.4px;color:#2a2a2a;left:460.8px;"></div>
<div class="t" style="top:304.45px;height:14px;line-height:14px;font-size:9.4px;color:#2a2a2a;left:547.8px;"></div>
<div style="left:120.8px;top:325.28px;width:10px;height:10px;border-radius:50%;background:#568fcd"></div>
<div class="t" style="top:323.38px;height:14px;line-height:14px;font-size:9.4px;color:#2a2a2a;letter-spacing:-0.057px;left:146.9px;">Inprocess</div>
<div class="t" style="top:323.38px;height:14px;line-height:14px;font-size:9.4px;color:#2a2a2a;left:234.4px;width:134.6px;overflow:hidden;">10100 - Cash Deposits</div>
<div class="t" style="top:323.38px;height:14px;line-height:14px;font-size:9.4px;color:#2a2a2a;left:373.0px;">10003</div>
<div class="t" style="top:323.38px;height:14px;line-height:14px;font-size:9.4px;color:#2a2a2a;left:460.8px;"></div>
<div class="t" style="top:323.38px;height:14px;line-height:14px;font-size:9.4px;color:#2a2a2a;left:547.8px;"></div>
<div style="left:120.8px;top:344.22px;width:10px;height:10px;border-radius:50%;background:#568fcd"></div>
<div class="t" style="top:342.32px;height:14px;line-height:14px;font-size:9.4px;color:#2a2a2a;letter-spacing:-0.057px;left:146.9px;">Inprocess</div>
<div class="t" style="top:342.32px;height:14px;line-height:14px;font-size:9.4px;color:#2a2a2a;left:234.4px;width:134.6px;overflow:hidden;">10100 - Cash Deposits</div>
<div class="t" style="top:342.32px;height:14px;line-height:14px;font-size:9.4px;color:#2a2a2a;left:373.0px;">10001</div>
<div class="t" style="top:342.32px;height:14px;line-height:14px;font-size:9.4px;color:#2a2a2a;left:460.8px;"></div>
<div class="t" style="top:342.32px;height:14px;line-height:14px;font-size:9.4px;color:#2a2a2a;left:547.8px;"></div>
<div style="left:120.8px;top:363.15px;width:10px;height:10px;border-radius:50%;background:#568fcd"></div>
<div class="t" style="top:361.25px;height:14px;line-height:14px;font-size:9.4px;color:#2a2a2a;letter-spacing:-0.057px;left:146.9px;">Inprocess</div>
<div class="t" style="top:361.25px;height:14px;line-height:14px;font-size:9.4px;color:#2a2a2a;left:234.4px;width:134.6px;overflow:hidden;">10100 - Cash Deposits</div>
<div class="t" style="top:361.25px;height:14px;line-height:14px;font-size:9.4px;color:#2a2a2a;left:373.0px;">10003</div>
<div class="t" style="top:361.25px;height:14px;line-height:14px;font-size:9.4px;color:#2a2a2a;left:460.8px;"></div>
<div class="t" style="top:361.25px;height:14px;line-height:14px;font-size:9.4px;color:#2a2a2a;left:547.8px;"></div>
<div style="left:120.8px;top:382.09px;width:10px;height:10px;border-radius:50%;background:#568fcd"></div>
<div class="t" style="top:380.19px;height:14px;line-height:14px;font-size:9.4px;color:#2a2a2a;letter-spacing:-0.057px;left:146.9px;">Inprocess</div>
<div class="t" style="top:380.19px;height:14px;line-height:14px;font-size:9.4px;color:#2a2a2a;left:234.4px;width:134.6px;overflow:hidden;">10100 - Cash Deposits</div>
<div class="t" style="top:380.19px;height:14px;line-height:14px;font-size:9.4px;color:#2a2a2a;left:373.0px;">10001</div>
<div class="t" style="top:380.19px;height:14px;line-height:14px;font-size:9.4px;color:#2a2a2a;left:460.8px;"></div>
<div class="t" style="top:380.19px;height:14px;line-height:14px;font-size:9.4px;color:#2a2a2a;left:547.8px;"></div>
<div style="left:120.8px;top:401.02px;width:10px;height:10px;border-radius:50%;background:#568fcd"></div>
<div class="t" style="top:399.12px;height:14px;line-height:14px;font-size:9.4px;color:#2a2a2a;letter-spacing:-0.057px;left:146.9px;">Inprocess</div>
<div class="t" style="top:399.12px;height:14px;line-height:14px;font-size:9.4px;color:#2a2a2a;left:234.4px;width:134.6px;overflow:hidden;">10100 - Cash Deposits</div>
<div class="t" style="top:399.12px;height:14px;line-height:14px;font-size:9.4px;color:#2a2a2a;left:373.0px;">10002</div>
<div class="t" style="top:399.12px;height:14px;line-height:14px;font-size:9.4px;color:#2a2a2a;left:460.8px;"></div>
<div class="t" style="top:399.12px;height:14px;line-height:14px;font-size:9.4px;color:#2a2a2a;left:547.8px;"></div>
<div style="left:120.8px;top:419.96px;width:10px;height:10px;border-radius:50%;background:#568fcd"></div>
<div class="t" style="top:418.06px;height:14px;line-height:14px;font-size:9.4px;color:#2a2a2a;letter-spacing:-0.057px;left:146.9px;">Inprocess</div>
<div class="t" style="top:418.06px;height:14px;line-height:14px;font-size:9.4px;color:#2a2a2a;left:234.4px;width:134.6px;overflow:hidden;">10100 - Cash Deposits</div>
<div class="t" style="top:418.06px;height:14px;line-height:14px;font-size:9.4px;color:#2a2a2a;left:373.0px;">10003</div>
<div class="t" style="top:418.06px;height:14px;line-height:14px;font-size:9.4px;color:#2a2a2a;left:460.8px;"></div>
<div class="t" style="top:418.06px;height:14px;line-height:14px;font-size:9.4px;color:#2a2a2a;left:547.8px;"></div>
<div style="left:120.8px;top:438.89px;width:10px;height:10px;border-radius:50%;background:#568fcd"></div>
<div class="t" style="top:436.99px;height:14px;line-height:14px;font-size:9.4px;color:#2a2a2a;letter-spacing:-0.057px;left:146.9px;">Inprocess</div>
<div class="t" style="top:436.99px;height:14px;line-height:14px;font-size:9.4px;color:#2a2a2a;left:234.4px;width:134.6px;overflow:hidden;">10100 - Cash Deposits</div>
<div class="t" style="top:436.99px;height:14px;line-height:14px;font-size:9.4px;color:#2a2a2a;left:373.0px;">10004</div>
<div class="t" style="top:436.99px;height:14px;line-height:14px;font-size:9.4px;color:#2a2a2a;left:460.8px;"></div>
<div class="t" style="top:436.99px;height:14px;line-height:14px;font-size:9.4px;color:#2a2a2a;left:547.8px;"></div>
<div style="left:120.8px;top:457.83px;width:10px;height:10px;border-radius:50%;background:#568fcd"></div>
<div class="t" style="top:455.93px;height:14px;line-height:14px;font-size:9.4px;color:#2a2a2a;letter-spacing:-0.057px;left:146.9px;">Inprocess</div>
<div class="t" style="top:455.93px;height:14px;line-height:14px;font-size:9.4px;color:#2a2a2a;left:234.4px;width:134.6px;overflow:hidden;">10100 - Cash Deposits</div>
<div class="t" style="top:455.93px;height:14px;line-height:14px;font-size:9.4px;color:#2a2a2a;left:373.0px;">11234</div>
<div class="t" style="top:455.93px;height:14px;line-height:14px;font-size:9.4px;color:#2a2a2a;left:460.8px;"></div>
<div class="t" style="top:455.93px;height:14px;line-height:14px;font-size:9.4px;color:#2a2a2a;left:547.8px;"></div>
<svg style="left:120.4px;top:477.26px" width="10.6" height="9" viewBox="0 0 10.6 9"><path d="M1.3 5.2 L4.1 7.8 L9.6 1.3" fill="none" stroke="#36a712" stroke-width="2.5" stroke-linejoin="miter"/></svg>
<div class="t" style="top:474.86px;height:14px;line-height:14px;font-size:9.4px;color:#2a2a2a;letter-spacing:0.208px;left:146.9px;">Approved</div>
<div class="t" style="top:474.86px;height:14px;line-height:14px;font-size:9.4px;color:#2a2a2a;left:234.4px;width:134.6px;overflow:hidden;">10100 - Cash Deposits</div>
<div class="t" style="top:474.86px;height:14px;line-height:14px;font-size:9.4px;color:#2a2a2a;left:373.0px;">11238</div>
<div class="t" style="top:474.86px;height:14px;line-height:14px;font-size:9.4px;color:#2a2a2a;left:460.8px;"></div>
<div class="t" style="top:474.86px;height:14px;line-height:14px;font-size:9.4px;color:#2a2a2a;left:547.8px;"></div>
<div style="left:120.8px;top:495.70px;width:10px;height:10px;border-radius:50%;background:#568fcd"></div>
<div class="t" style="top:493.80px;height:14px;line-height:14px;font-size:9.4px;color:#2a2a2a;letter-spacing:-0.057px;left:146.9px;">Inprocess</div>
<div class="t" style="top:493.80px;height:14px;line-height:14px;font-size:9.4px;color:#2a2a2a;left:234.4px;width:134.6px;overflow:hidden;">10200 - Other Cash Equivalents</div>
<div class="t" style="top:493.80px;height:14px;line-height:14px;font-size:9.4px;color:#2a2a2a;left:373.0px;">10035</div>
<div class="t" style="top:493.80px;height:14px;line-height:14px;font-size:9.4px;color:#2a2a2a;left:460.8px;"></div>
<div class="t" style="top:493.80px;height:14px;line-height:14px;font-size:9.4px;color:#2a2a2a;left:547.8px;"></div>
<svg style="left:120.4px;top:515.13px" width="10.6" height="9" viewBox="0 0 10.6 9"><path d="M1.3 5.2 L4.1 7.8 L9.6 1.3" fill="none" stroke="#36a712" stroke-width="2.5" stroke-linejoin="miter"/></svg>
<div class="t" style="top:512.74px;height:14px;line-height:14px;font-size:9.4px;color:#2a2a2a;letter-spacing:0.208px;left:146.9px;">Approved</div>
<div class="t" style="top:512.74px;height:14px;line-height:14px;font-size:9.4px;color:#2a2a2a;left:234.4px;width:134.6px;overflow:hidden;">10300 - Marketable Securities</div>
<div class="t" style="top:512.74px;height:14px;line-height:14px;font-size:9.4px;color:#2a2a2a;left:373.0px;">11085</div>
<div class="t" style="top:512.74px;height:14px;line-height:14px;font-size:9.4px;color:#2a2a2a;left:460.8px;"></div>
<div class="t" style="top:512.74px;height:14px;line-height:14px;font-size:9.4px;color:#2a2a2a;left:547.8px;"></div>
<div class="t" style="top:512.74px;height:14px;line-height:14px;font-size:9.4px;color:#2a2a2a;right:28.60px;text-align:right;">4,</div>
<svg style="left:120.4px;top:534.07px" width="10.6" height="9" viewBox="0 0 10.6 9"><path d="M1.3 5.2 L4.1 7.8 L9.6 1.3" fill="none" stroke="#36a712" stroke-width="2.5" stroke-linejoin="miter"/></svg>
<div class="t" style="top:531.67px;height:14px;line-height:14px;font-size:9.4px;color:#2a2a2a;letter-spacing:0.208px;left:146.9px;">Approved</div>
<div class="t" style="top:531.67px;height:14px;line-height:14px;font-size:9.4px;color:#2a2a2a;left:234.4px;width:134.6px;overflow:hidden;">10300 - Marketable Securities</div>
<div class="t" style="top:531.67px;height:14px;line-height:14px;font-size:9.4px;color:#2a2a2a;left:373.0px;">11085</div>
<div class="t" style="top:531.67px;height:14px;line-height:14px;font-size:9.4px;color:#2a2a2a;left:460.8px;"></div>
<div class="t" style="top:531.67px;height:14px;line-height:14px;font-size:9.4px;color:#2a2a2a;left:547.8px;"></div>
<div class="t" style="top:531.67px;height:14px;line-height:14px;font-size:9.4px;color:#2a2a2a;right:28.60px;text-align:right;">7,</div>
<div style="left:120.8px;top:552.50px;width:10px;height:10px;border-radius:50%;background:#e2533b"></div>
<div class="t" style="top:550.61px;height:14px;line-height:14px;font-size:9.4px;color:#2a2a2a;letter-spacing:-0.102px;left:146.9px;">Rejected</div>
<div class="t" style="top:550.61px;height:14px;line-height:14px;font-size:9.4px;color:#2a2a2a;left:234.4px;width:134.6px;overflow:hidden;">10400 - Restricted Cash</div>
<div class="t" style="top:550.61px;height:14px;line-height:14px;font-size:9.4px;color:#2a2a2a;left:373.0px;">11090</div>
<div class="t" style="top:550.61px;height:14px;line-height:14px;font-size:9.4px;color:#2a2a2a;left:460.8px;"></div>
<div class="t" style="top:550.61px;height:14px;line-height:14px;font-size:9.4px;color:#2a2a2a;left:547.8px;"></div>
<div class="t" style="top:550.61px;height:14px;line-height:14px;font-size:9.4px;color:#2a2a2a;right:28.60px;text-align:right;">4,</div>
<div style="left:120.8px;top:571.44px;width:10px;height:10px;border-radius:50%;background:#58b24d"></div>
<div class="t" style="top:569.54px;height:14px;line-height:14px;font-size:9.4px;color:#2a2a2a;letter-spacing:0.22px;left:146.9px;">Completed</div>
<div class="t" style="top:569.54px;height:14px;line-height:14px;font-size:9.4px;color:#2a2a2a;left:234.4px;width:134.6px;overflow:hidden;">10400 - Restricted Cash</div>
<div class="t" style="top:569.54px;height:14px;line-height:14px;font-size:9.4px;color:#2a2a2a;left:373.0px;">11090</div>
<div class="t" style="top:569.54px;height:14px;line-height:14px;font-size:9.4px;color:#2a2a2a;left:460.8px;"></div>
<div class="t" style="top:569.54px;height:14px;line-height:14px;font-size:9.4px;color:#2a2a2a;left:547.8px;"></div>
<div class="t" style="top:569.54px;height:14px;line-height:14px;font-size:9.4px;color:#2a2a2a;right:28.60px;text-align:right;">6,</div>
<div style="left:120.8px;top:590.37px;width:10px;height:10px;border-radius:50%;background:#568fcd"></div>
<div class="t" style="top:588.47px;height:14px;line-height:14px;font-size:9.4px;color:#2a2a2a;letter-spacing:-0.057px;left:146.9px;">Inprocess</div>
<div class="t" style="top:588.47px;height:14px;line-height:14px;font-size:9.4px;color:#2a2a2a;left:234.4px;width:134.6px;overflow:hidden;">11000 - Trade Receivables</div>
<div class="t" style="top:588.47px;height:14px;line-height:14px;font-size:9.4px;color:#2a2a2a;left:373.0px;">GRP - Global AR</div>
<div class="t" style="top:588.47px;height:14px;line-height:14px;font-size:9.4px;color:#2a2a2a;left:460.8px;"></div>
<div class="t" style="top:588.47px;height:14px;line-height:14px;font-size:9.4px;color:#2a2a2a;left:547.8px;"></div>
<div style="left:120.8px;top:609.31px;width:10px;height:10px;border-radius:50%;background:#568fcd"></div>
<div class="t" style="top:607.41px;height:14px;line-height:14px;font-size:9.4px;color:#2a2a2a;letter-spacing:-0.057px;left:146.9px;">Inprocess</div>
<div class="t" style="top:607.41px;height:14px;line-height:14px;font-size:9.4px;color:#2a2a2a;left:234.4px;width:134.6px;overflow:hidden;">11100 - Other Receivables</div>
<div class="t" style="top:607.41px;height:14px;line-height:14px;font-size:9.4px;color:#2a2a2a;left:373.0px;">11100</div>
<div class="t" style="top:607.41px;height:14px;line-height:14px;font-size:9.4px;color:#2a2a2a;left:460.8px;"></div>
<div class="t" style="top:607.41px;height:14px;line-height:14px;font-size:9.4px;color:#2a2a2a;left:547.8px;"></div>
<div style="left:120.8px;top:628.24px;width:10px;height:10px;border-radius:50%;background:#568fcd"></div>
<div class="t" style="top:626.34px;height:14px;line-height:14px;font-size:9.4px;color:#2a2a2a;letter-spacing:-0.057px;left:146.9px;">Inprocess</div>
<div class="t" style="top:626.34px;height:14px;line-height:14px;font-size:9.4px;color:#2a2a2a;left:234.4px;width:134.6px;overflow:hidden;">11100 - Other Receivables</div>
<div class="t" style="top:626.34px;height:14px;line-height:14px;font-size:9.4px;color:#2a2a2a;left:373.0px;">11600</div>
<div class="t" style="top:626.34px;height:14px;line-height:14px;font-size:9.4px;color:#2a2a2a;left:460.8px;"></div>
<div class="t" style="top:626.34px;height:14px;line-height:14px;font-size:9.4px;color:#2a2a2a;left:547.8px;"></div>
</div>
<div style="left:1390px;top:90px;width:9px;height:561px;background:#fff;"></div>
<svg style="left:1394.6px;top:94.6px" width="1" height="1"><polygon points="-2.3,1.265 2.3,1.265 0,-1.265" fill="#222"/></svg>
<div style="left:1393.2px;top:113.5px;width:3px;height:70.5px;background:#c3d1ee;border-radius:1.5px;"></div>
<svg style="left:1394.6px;top:634.8px" width="1" height="1"><polygon points="-2.3,-1.265 2.3,-1.265 0,1.265" fill="#222"/></svg>
<div style="left:107px;top:639px;width:1283px;height:12.5px;background:#fff;"></div>
<div style="left:107px;top:648.3px;width:1292px;height:2.7px;background:#e4ebf8;"></div>
<svg style="left:111px;top:643.6px" width="1" height="1"><polygon points="1.265,-2.3 1.265,2.3 -1.265,0" fill="#222"/></svg>
<svg style="left:1385.8px;top:643.6px" width="1" height="1"><polygon points="-1.265,-2.3 -1.265,2.3 1.265,0" fill="#222"/></svg>
<div style="left:115px;top:642.4px;width:600px;height:2.4px;background:#c3d1ee;border-radius:1.2px;"></div>
<div style="left:458.5px;top:188px;width:874.0px;height:470.20000000000005px;background:#fff;box-shadow:0 0 2px rgba(40,70,120,0.35);"></div>
<div style="left:458.5px;top:188px;width:874.0px;height:34.2px;background:#3d73b1;"></div>
<div style="left:458.5px;top:188px;width:874.0px;height:1px;background:#6d97cb;"></div>
<div style="left:459px;top:222.2px;width:49px;height:399.3px;background:#d3dff5;"></div>
<div style="left:1331.7px;top:222px;width:0.8px;height:436.20000000000005px;background:#9fb6de;"></div>
<div style="left:458.5px;top:222px;width:0.8px;height:436.20000000000005px;background:#9fb6de;"></div>
<svg style="left:464.00px;top:192.60px" width="14.4" height="13.6" viewBox="0 0 16 16" preserveAspectRatio="none"><g transform="translate(2.2 0) skewX(-16)"><ellipse cx="8" cy="8" rx="5.6" ry="6.6" fill="none" stroke="#edf1f9" stroke-width="1.7" stroke-linecap="round" stroke-linejoin="round"/></g><path d="M13.8 1.2 C9.4 2.6 9.6 6.4 8.2 8.2 C6.6 10.4 6.8 13.4 2.2 14.8" fill="none" stroke="#edf1f9" stroke-width="2.2" stroke-linecap="round" stroke-linejoin="round"/></svg>
<div class="t" style="top:193.20px;height:14px;line-height:14px;font-size:10.6px;color:#fff;letter-spacing:-0.254px;left:482.7px;">Reconcile</div>
<div class="t" style="top:209.80px;height:14px;line-height:14px;font-size:8.6px;color:#f2f5fb;letter-spacing:-0.205px;left:463px;">WORKFLOW  (Clubs, ActualAR, 2018M3)</div>
<svg style="left:1280.4px;top:194.4px" width="8.2" height="10.6" viewBox="0 0 8.2 10.6"><path d="M2.6 1.6 V0.7 H5.6 V1.6" fill="none" stroke="#f2f5fb" stroke-width="1"/><rect x="0.7" y="1.6" width="6.8" height="8.3" rx="1.2" fill="none" stroke="#f2f5fb" stroke-width="1.2"/></svg>
<svg style="left:1305.8px;top:196.6px" width="7.4" height="7.2" viewBox="0 0 7.4 7.2"><rect x="0.7" y="0.7" width="6" height="5.8" fill="none" stroke="#f2f5fb" stroke-width="1.4"/></svg>
<svg style="left:1320px;top:197.2px" width="6.8" height="6.4" viewBox="0 0 6.8 6.4"><path d="M0.5 0.5 L6.3 5.9 M6.3 0.5 L0.5 5.9" fill="none" stroke="#f2f5fb" stroke-width="1.2"/></svg>
<svg style="left:478.10px;top:224.90px" width="17" height="17" viewBox="0 0 16 16" preserveAspectRatio="none"><circle cx="8" cy="8" r="7.2" fill="none" stroke="#6d86cd" stroke-width="1.15" stroke-linecap="round" stroke-linejoin="round"/><path d="M4.3 8H11.5M8.8 5.2 L11.6 8 L8.8 10.8" fill="none" stroke="#6d86cd" stroke-width="1.15" stroke-linecap="round" stroke-linejoin="round"/></svg>
<div class="t" style="top:246.60px;height:14px;line-height:14px;font-size:7.8px;color:#80858d;letter-spacing:-0.016px;left:333.79px;width:300px;text-align:center;">Next</div>
<svg style="left:478.10px;top:262.00px" width="17" height="17" viewBox="0 0 16 16" preserveAspectRatio="none"><circle cx="8" cy="8" r="7.2" fill="none" stroke="#6d86cd" stroke-width="1.15" stroke-linecap="round" stroke-linejoin="round"/><path d="M11.7 8H4.5M7.2 5.2 L4.4 8 L7.2 10.8" fill="none" stroke="#6d86cd" stroke-width="1.15" stroke-linecap="round" stroke-linejoin="round"/></svg>
<div class="t" style="top:283.60px;height:14px;line-height:14px;font-size:7.8px;color:#80858d;letter-spacing:-0.121px;left:333.94px;width:300px;text-align:center;">Previous</div>
<svg style="left:477.70px;top:313.00px" width="16.6" height="16" viewBox="0 0 16 16" preserveAspectRatio="none"><path d="M2 14.5 V1.5 H14 V7" fill="none" stroke="#6d86cd" stroke-width="1.0" stroke-linecap="round" stroke-linejoin="round"/><path d="M2 14.5 H7.5" fill="none" stroke="#6d86cd" stroke-width="1.0" stroke-linecap="round" stroke-linejoin="round"/><path d="M4.3 4.2H5.2M4.3 7H5.2M4.3 9.8H5.2M7 4.2H11.8M7 7H9.5" fill="none" stroke="#6d86cd" stroke-width="0.9" stroke-linecap="round" stroke-linejoin="round"/><circle cx="11.2" cy="11.2" r="2.5" fill="none" stroke="#6d86cd" stroke-width="1.1" stroke-linecap="round" stroke-linejoin="round"/><path d="M13 13 L15 15" fill="none" stroke="#6d86cd" stroke-width="1.4" stroke-linecap="round" stroke-linejoin="round"/></svg>
<div class="t" style="top:335.00px;height:14px;line-height:14px;font-size:7.8px;color:#80858d;letter-spacing:-0.145px;left:334.93px;width:300px;text-align:center;">Ref Doc</div>
<div class="t" style="top:230.40px;height:26px;line-height:26px;font-size:19.8px;color:#000;font-weight:bold;letter-spacing:0.025px;left:516.6px;">10100 - Cash Deposits</div>
<div style="left:1182.6px;top:222.2px;width:1px;height:41px;background:#c8d5ee;"></div>
<svg style="left:1197.20px;top:225.60px" width="20.6" height="20.6" viewBox="0 0 16 16" preserveAspectRatio="none"><path d="M12.6 4.43 A6.8 6.8 0 1 0 12.2 13.6" fill="none" stroke="#5a7fc4" stroke-width="0.95" stroke-linecap="round" stroke-linejoin="round"/><path d="M9.4 4.43 H12.6 V1.3" fill="none" stroke="#5a7fc4" stroke-width="0.95" stroke-linecap="round" stroke-linejoin="round"/><circle cx="13.2" cy="12.4" r="1.7" fill="none" stroke="#5a7fc4" stroke-width="0.95" stroke-linecap="round" stroke-linejoin="round" /></svg>
<svg style="left:1247.80px;top:226.70px" width="19.4" height="19.4" viewBox="0 0 16 16" preserveAspectRatio="none"><circle cx="8" cy="8" r="7.2" fill="none" stroke="#e27c7c" stroke-width="0.9" stroke-linecap="round" stroke-linejoin="round"/><path d="M5.2 5.2 L10.8 10.8 M10.8 5.2 L5.2 10.8" fill="none" stroke="#e27c7c" stroke-width="1.0" stroke-linecap="round" stroke-linejoin="round"/></svg>
<svg style="left:1297.50px;top:228.20px" width="19" height="16.4" viewBox="0 0 16 16" preserveAspectRatio="none"><path d="M1 9.2 L5.6 14 L15 1.6" fill="none" stroke="#4cc42f" stroke-width="1.45" stroke-linecap="round" stroke-linejoin="round"/></svg>
<div class="t" style="top:250.60px;height:14px;line-height:14px;font-size:7.0px;color:#555;font-weight:bold;letter-spacing:-0.205px;left:1056.90px;width:300px;text-align:center;">Recall</div>
<div class="t" style="top:250.60px;height:14px;line-height:14px;font-size:7.0px;color:#555;font-weight:bold;letter-spacing:-0.123px;left:1106.94px;width:300px;text-align:center;">Reject</div>
<div class="t" style="top:250.60px;height:14px;line-height:14px;font-size:7.0px;color:#555;font-weight:bold;letter-spacing:0.132px;left:1158.67px;width:300px;text-align:center;">Approve</div>
<div style="left:508px;top:263px;width:823.7px;height:24.6px;background:#3d73b1;"></div>
<div style="left:582.3px;top:263px;width:1.3px;height:24.6px;background:#9fb9dc;"></div>
<div style="left:707.0px;top:263px;width:1.3px;height:24.6px;background:#9fb9dc;"></div>
<div class="t" style="top:263.80px;height:14px;line-height:14px;font-size:6.9px;color:#e3eaf6;letter-spacing:-0.22px;left:522.8px;">Source Account</div>
<div class="t" style="top:275.20px;height:14px;line-height:14px;font-size:9.3px;color:#fff;letter-spacing:-0.015px;left:522.8px;">10003</div>
<div class="t" style="top:263.80px;height:14px;line-height:14px;font-size:6.9px;color:#e3eaf6;letter-spacing:-0.151px;left:598.2px;">Target Entity</div>
<div class="t" style="top:275.20px;height:14px;line-height:14px;font-size:9.3px;color:#fff;letter-spacing:0.212px;left:598.2px;">Frankfurt</div>
<div class="t" style="top:263.80px;height:14px;line-height:14px;font-size:6.9px;color:#e3eaf6;letter-spacing:-0.232px;left:651.8px;">Source Entity</div>
<div class="t" style="top:275.20px;height:14px;line-height:14px;font-size:9.0px;color:#fff;letter-spacing:-0.35px;left:651.8px;">FRANKFU</div>
<div class="t" style="top:263.80px;height:14px;line-height:14px;font-size:6.9px;color:#e3eaf6;letter-spacing:-0.229px;left:723.4px;">Tracking Detail</div>
<div style="left:508px;top:287.6px;width:823.7px;height:24.9px;background:#d3dff5;"></div>
<div class="t" style="top:293.90px;height:14px;line-height:14px;font-size:9.4px;color:#858b95;letter-spacing:-0.186px;left:519.6px;">Risk Level:</div>
<div class="t" style="top:293.90px;height:14px;line-height:14px;font-size:9.9px;color:#2a2a2a;letter-spacing:0.362px;left:572.4px;">High</div>
<div class="t" style="top:293.90px;height:14px;line-height:14px;font-size:9.4px;color:#858b95;letter-spacing:0.034px;left:608.5px;">Proper Sign:</div>
<div class="t" style="top:293.90px;height:14px;line-height:14px;font-size:9.9px;color:#2a2a2a;letter-spacing:-0.012px;left:669.8px;">(Unassigned)</div>
<div class="t" style="top:293.90px;height:14px;line-height:14px;font-size:9.4px;color:#858b95;letter-spacing:-0.052px;left:736.6px;">Due Date:</div>
<div class="t" style="top:293.90px;height:14px;line-height:14px;font-size:9.9px;color:#2a2a2a;letter-spacing:0.389px;left:787px;">06/11/2020</div>
<div class="t" style="top:293.90px;height:14px;line-height:14px;font-size:9.4px;color:#858b95;letter-spacing:0.026px;left:847px;">Days Until Due:</div>
<div class="t" style="top:293.90px;height:14px;line-height:14px;font-size:9.9px;color:#2a2a2a;left:920.7px;">0</div>
<div class="t" style="top:293.90px;height:14px;line-height:14px;font-size:9.4px;color:#858b95;letter-spacing:-0.219px;left:935.4px;">Days Past Due:</div>
<div class="t" style="top:293.90px;height:14px;line-height:14px;font-size:9.9px;color:#2a2a2a;left:1006.8px;">7</div>
<div style="left:511.4px;top:316px;width:120.0px;height:75px;background:#fff;border:1px solid #f1f3f9;border-radius:3px;"></div>
<div class="t" style="top:318.00px;height:14px;line-height:14px;font-size:9.5px;color:#5a5a5a;font-weight:bold;letter-spacing:-0.094px;right:799.29px;text-align:right;">Account (EUR)</div>
<div class="t" style="top:336.30px;height:14px;line-height:14px;font-size:9.3px;color:#858b95;letter-spacing:-0.198px;right:848.40px;text-align:right;">Balance:</div>
<div class="t" style="top:334.60px;height:16px;line-height:16px;font-size:11.4px;color:#000;font-weight:bold;letter-spacing:0.157px;right:793.44px;text-align:right;">-8,917.81</div>
<div class="t" style="top:349.50px;height:14px;line-height:14px;font-size:9.3px;color:#858b95;letter-spacing:-0.047px;right:848.25px;text-align:right;">Explained:</div>
<div class="t" style="top:348.30px;height:16px;line-height:16px;font-size:9.3px;color:#5dbb5d;letter-spacing:-0.162px;right:793.76px;text-align:right;">-8,917.81</div>
<div class="t" style="top:362.70px;height:14px;line-height:14px;font-size:9.3px;color:#858b95;letter-spacing:0.056px;right:848.14px;text-align:right;">Unexplained:</div>
<div class="t" style="top:361.50px;height:16px;line-height:16px;font-size:9.3px;color:#c95555;letter-spacing:-0.303px;right:793.90px;text-align:right;">0.00</div>
<div class="t" style="top:375.90px;height:14px;line-height:14px;font-size:9.3px;color:#858b95;letter-spacing:0.159px;right:848.04px;text-align:right;">Activity:</div>
<div class="t" style="top:374.70px;height:16px;line-height:16px;font-size:9.3px;color:#2a2a2a;letter-spacing:-0.108px;right:793.71px;text-align:right;">-178.36</div>
<div style="left:637.2px;top:315.2px;width:120.39999999999998px;height:76.6px;background:#fff;border:1.4px solid #4a7ab8;border-radius:4px;"></div>
<div class="t" style="top:318.00px;height:14px;line-height:14px;font-size:9.5px;color:#5a5a5a;font-weight:bold;letter-spacing:-0.234px;right:673.23px;text-align:right;">Local (EUR)</div>
<div class="t" style="top:336.30px;height:14px;line-height:14px;font-size:9.3px;color:#858b95;letter-spacing:-0.198px;right:722.50px;text-align:right;">Balance:</div>
<div class="t" style="top:334.60px;height:16px;line-height:16px;font-size:11.4px;color:#000;font-weight:bold;letter-spacing:0.157px;right:667.14px;text-align:right;">-8,917.81</div>
<div class="t" style="top:349.50px;height:14px;line-height:14px;font-size:9.3px;color:#858b95;letter-spacing:-0.047px;right:722.35px;text-align:right;">Explained:</div>
<div class="t" style="top:348.30px;height:16px;line-height:16px;font-size:9.3px;color:#5dbb5d;letter-spacing:-0.162px;right:667.46px;text-align:right;">-8,917.81</div>
<div class="t" style="top:362.70px;height:14px;line-height:14px;font-size:9.3px;color:#858b95;letter-spacing:0.056px;right:722.24px;text-align:right;">Unexplained:</div>
<div class="t" style="top:361.50px;height:16px;line-height:16px;font-size:9.3px;color:#c95555;letter-spacing:-0.303px;right:667.60px;text-align:right;">0.00</div>
<div class="t" style="top:375.90px;height:14px;line-height:14px;font-size:9.3px;color:#858b95;letter-spacing:0.159px;right:722.14px;text-align:right;">Activity:</div>
<div class="t" style="top:374.70px;height:16px;line-height:16px;font-size:9.3px;color:#2a2a2a;letter-spacing:-0.108px;right:667.41px;text-align:right;">-178.36</div>
<div style="left:763.8px;top:316px;width:125.80000000000007px;height:75px;background:#fff;border:1px solid #f1f3f9;border-radius:3px;"></div>
<div class="t" style="top:318.00px;height:14px;line-height:14px;font-size:9.5px;color:#5a5a5a;font-weight:bold;letter-spacing:0.086px;right:539.41px;text-align:right;">Reporting (USD)</div>
<div class="t" style="top:336.30px;height:14px;line-height:14px;font-size:9.3px;color:#858b95;letter-spacing:-0.198px;right:596.50px;text-align:right;">Balance:</div>
<div class="t" style="top:334.60px;height:16px;line-height:16px;font-size:11.4px;color:#000;font-weight:bold;letter-spacing:0.392px;right:533.21px;text-align:right;">-12,047.97</div>
<div class="t" style="top:349.50px;height:14px;line-height:14px;font-size:9.3px;color:#858b95;letter-spacing:-0.047px;right:596.35px;text-align:right;">Explained:</div>
<div class="t" style="top:348.30px;height:16px;line-height:16px;font-size:9.3px;color:#5dbb5d;letter-spacing:-0.108px;right:533.71px;text-align:right;">-12,047.97</div>
<div class="t" style="top:362.70px;height:14px;line-height:14px;font-size:9.3px;color:#858b95;letter-spacing:0.056px;right:596.24px;text-align:right;">Unexplained:</div>
<div class="t" style="top:361.50px;height:16px;line-height:16px;font-size:9.3px;color:#c95555;letter-spacing:-0.303px;right:533.90px;text-align:right;">0.00</div>
<div class="t" style="top:375.90px;height:14px;line-height:14px;font-size:9.3px;color:#858b95;letter-spacing:0.159px;right:596.14px;text-align:right;">Activity:</div>
<div class="t" style="top:374.70px;height:16px;line-height:16px;font-size:9.3px;color:#2a2a2a;letter-spacing:-0.112px;right:533.71px;text-align:right;">-1,342.14</div>
<div style="left:1010px;top:316.4px;width:149.5px;height:74.4px;background:#fff;border:1px solid #f1f3f9;border-radius:3px;"></div>
<div style="left:1166.5px;top:316.4px;width:162px;height:74.4px;background:#fff;border:1px solid #f1f3f9;border-radius:3px;"></div>
<div class="t" style="top:335.30px;height:14px;line-height:14px;font-size:9.2px;color:#858b95;letter-spacing:-0.002px;right:376.60px;text-align:right;">Status:</div>
<div class="t" style="top:333.20px;height:16px;line-height:16px;font-size:11.4px;color:#000;font-weight:bold;letter-spacing:0.105px;left:1048px;">Completed</div>
<div class="t" style="top:349.20px;height:14px;line-height:14px;font-size:9.2px;color:#858b95;letter-spacing:-0.341px;right:376.94px;text-align:right;">By:</div>
<div class="t" style="top:347.90px;height:16px;line-height:16px;font-size:9.6px;color:#2a2a2a;letter-spacing:0.056px;left:1048px;">Frankfurt Controller</div>
<div class="t" style="top:363.10px;height:14px;line-height:14px;font-size:9.2px;color:#858b95;letter-spacing:0.158px;right:376.44px;text-align:right;">Date:</div>
<div class="t" style="top:361.80px;height:16px;line-height:16px;font-size:9.6px;color:#2a2a2a;letter-spacing:-0.024px;left:1048px;">06/18/20  5:07:34 PM</div>
<div class="t" style="top:335.30px;height:14px;line-height:14px;font-size:9.2px;color:#858b95;letter-spacing:0.159px;right:207.34px;text-align:right;">Approval:</div>
<div class="t" style="top:333.20px;height:16px;line-height:16px;font-size:11.4px;color:#000;font-weight:bold;letter-spacing:0.127px;left:1217px;">Unapproved</div>
<div class="t" style="top:349.20px;height:14px;line-height:14px;font-size:9.2px;color:#858b95;letter-spacing:-0.146px;right:207.65px;text-align:right;">Level:</div>
<div class="t" style="top:347.90px;height:16px;line-height:16px;font-size:9.6px;color:#2a2a2a;letter-spacing:-0.003px;left:1217px;">0 of 1</div>
<div class="t" style="top:363.10px;height:14px;line-height:14px;font-size:9.2px;color:#858b95;letter-spacing:-0.341px;right:207.84px;text-align:right;">By:</div>
<div class="t" style="top:376.10px;height:14px;line-height:14px;font-size:9.2px;color:#858b95;letter-spacing:0.158px;right:207.34px;text-align:right;">Date:</div>
<div style="left:508.4px;top:394.4px;width:616.1999999999999px;height:25px;background:#d3dff5;border-top:1px solid #a9bde3;border-bottom:1px solid #a9bde3;"></div>
<div style="left:1128.4px;top:394.4px;width:203.0px;height:25px;background:#d3dff5;border-top:1px solid #a9bde3;border-bottom:1px solid #a9bde3;border-left:1px solid #a9bde3;"></div>
<div style="left:1123.6px;top:394.4px;width:1px;height:188px;background:#a9bde3;"></div>
<div style="left:508.4px;top:394.4px;width:1px;height:188px;background:#a9bde3;"></div>
<div style="left:1128.4px;top:394.4px;width:1px;height:188px;background:#a9bde3;"></div>
<div style="left:1330.4px;top:394.4px;width:1px;height:188px;background:#a9bde3;"></div>
<div style="left:1124.6px;top:394.4px;width:3.800000000000182px;height:227px;background:#c6d4f0;"></div>
<svg style="left:516.8px;top:402.2px" width="10.6" height="10.6" viewBox="0 0 10.6 10.6"><path d="M5.3 0.6 V10 M0.6 5.3 H10" stroke="#111" stroke-width="3" fill="none"/></svg>
<div style="left:538.5px;top:405.8px;width:10.6px;height:2.9px;background:#8a8f98;border-radius:1px;"></div>
<svg style="left:559.80px;top:401.00px" width="12.4" height="12.4" viewBox="0 0 16 16" preserveAspectRatio="none"><path d="M3.2 8.8 A5 5 0 1 0 5.6 4.2" fill="none" stroke="#8a8f98" stroke-width="2.0" stroke-linecap="round" stroke-linejoin="round"/><path d="M0.6 7.4 L3.4 10.2 L5.8 7.2Z" fill="#8a8f98" stroke="#8a8f98" stroke-width="0.6"/></svg>
<svg style="left:582.10px;top:401.90px" width="11" height="11" viewBox="0 0 16 16" preserveAspectRatio="none"><path d="M1.5 1.5 H14.5 V14.5 H1.5Z" fill="#8a8f98"/><rect x="4.6" y="1.5" width="6.8" height="4.6" fill="#c4cfe6"/><rect x="4.6" y="9.6" width="6.8" height="5" fill="#d3dff5"/></svg>
<div style="left:603px;top:401.8px;width:1.2px;height:10.8px;background:#7f9fdb;"></div>
<svg style="left:612.70px;top:400.70px" width="12.6" height="12.6" viewBox="0 0 16 16" preserveAspectRatio="none"><circle cx="8" cy="8" r="5.4" fill="none" stroke="#8a8f98" stroke-width="1.6" stroke-linecap="round" stroke-linejoin="round"/><path d="M1.6 1.2 L14.6 15 M12.6 3 L3.6 13" fill="none" stroke="#8a8f98" stroke-width="1.5" stroke-linecap="round" stroke-linejoin="round"/></svg>
<svg style="left:634.40px;top:400.80px" width="12.8" height="12.8" viewBox="0 0 16 16" preserveAspectRatio="none"><rect x="1.2" y="1.2" width="13.6" height="9.4" fill="#e6ecf8" stroke="#444" stroke-width="1"/><path d="M1.2 5.6 H14.8 M5.8 1.2 V10.6 M10.4 1.2 V10.6" stroke="#444" stroke-width="0.9" fill="none"/><rect x="6.3" y="1.7" width="3.6" height="3.4" fill="#f5a93a"/><rect x="6.3" y="6.1" width="3.6" height="4" fill="#6fa8ea"/><path d="M2.4 13.4 H13.6" stroke="#111" stroke-width="2" fill="none"/><path d="M4 11 L0.8 13.4 L4 15.8Z M12 11 L15.2 13.4 L12 15.8Z" fill="#111"/></svg>
<div class="t" style="top:399.80px;height:14px;line-height:14px;font-size:9.8px;color:#111;font-weight:bold;letter-spacing:-0.023px;left:662.99px;width:300px;text-align:center;">Detail Items</div>
<svg style="left:1108.8px;top:403.4px" width="10" height="9" viewBox="0 0 10 9"><rect x="0.5" y="0.5" width="9" height="8" fill="#e8eefb" stroke="#9db4df" stroke-width="0.8"/><path d="M2.4 6.8 L6.6 2.6 M3.8 2.4 H6.8 V5.4" stroke="#333" stroke-width="1.5" fill="none"/></svg>
<div class="t" style="top:399.60px;height:14px;line-height:14px;font-size:9.8px;color:#111;font-weight:bold;letter-spacing:-0.122px;left:1080.14px;width:300px;text-align:center;">Supporting Documents</div>
<div style="left:509.4px;top:419.4px;width:606.0000000000001px;height:23.1px;background:#d5e0f5;"></div>
<div style="left:1066.4px;top:419.4px;width:49px;height:23.1px;background:#b9c9e8;"></div>
<div class="t" style="top:425.20px;height:14px;line-height:14px;font-size:9.4px;color:#858b95;left:514.0px;">O</div>
<svg style="left:528.6px;top:426.40000000000003px" width="6.6" height="8.4" viewBox="0 0 6.6 8.4"><path d="M0.1 0.3 H6.5 L4.2 3.3 V8.1 L2.4 6.9 V3.3Z" fill="#1a1a1a"/></svg>
<div style="left:538.0px;top:419.4px;width:1px;height:23.1px;background:#c2cfea;"></div>
<div class="t" style="top:425.20px;height:14px;line-height:14px;font-size:9.4px;color:#858b95;left:542.1px;">R</div>
<svg style="left:554.3000000000001px;top:426.40000000000003px" width="6.6" height="8.4" viewBox="0 0 6.6 8.4"><path d="M0.1 0.3 H6.5 L4.2 3.3 V8.1 L2.4 6.9 V3.3Z" fill="#1a1a1a"/></svg>
<div style="left:563.7px;top:419.4px;width:1px;height:23.1px;background:#c2cfea;"></div>
<div class="t" style="top:425.20px;height:14px;line-height:14px;font-size:9.4px;color:#2a2a2a;left:568.6px;">Amount</div>
<svg style="left:641.5000000000001px;top:426.40000000000003px" width="6.6" height="8.4" viewBox="0 0 6.6 8.4"><path d="M0.1 0.3 H6.5 L4.2 3.3 V8.1 L2.4 6.9 V3.3Z" fill="#1a1a1a"/></svg>
<div style="left:651.1px;top:419.4px;width:1px;height:23.1px;background:#c2cfea;"></div>
<div class="t" style="top:425.20px;height:14px;line-height:14px;font-size:9.4px;color:#2a2a2a;left:656.0px;">Currency</div>
<svg style="left:703.1000000000001px;top:426.40000000000003px" width="6.6" height="8.4" viewBox="0 0 6.6 8.4"><path d="M0.1 0.3 H6.5 L4.2 3.3 V8.1 L2.4 6.9 V3.3Z" fill="#1a1a1a"/></svg>
<div style="left:712.7px;top:419.4px;width:1px;height:23.1px;background:#c2cfea;"></div>
<div class="t" style="top:425.20px;height:14px;line-height:14px;font-size:9.4px;color:#858b95;letter-spacing:-0.169px;left:717.6px;">Account (EUR)</div>
<svg style="left:790.4000000000001px;top:426.40000000000003px" width="6.6" height="8.4" viewBox="0 0 6.6 8.4"><path d="M0.1 0.3 H6.5 L4.2 3.3 V8.1 L2.4 6.9 V3.3Z" fill="#1a1a1a"/></svg>
<div style="left:800.0px;top:419.4px;width:1px;height:23.1px;background:#c2cfea;"></div>
<div class="t" style="top:425.20px;height:14px;line-height:14px;font-size:9.4px;color:#858b95;letter-spacing:-0.356px;left:804.9px;">Local (EUR)</div>
<svg style="left:877.5000000000001px;top:426.40000000000003px" width="6.6" height="8.4" viewBox="0 0 6.6 8.4"><path d="M0.1 0.3 H6.5 L4.2 3.3 V8.1 L2.4 6.9 V3.3Z" fill="#1a1a1a"/></svg>
<div style="left:887.1px;top:419.4px;width:1px;height:23.1px;background:#c2cfea;"></div>
<div class="t" style="top:425.20px;height:14px;line-height:14px;font-size:9.4px;color:#858b95;left:892.0px;">Reporting (USD)</div>
<svg style="left:968.5000000000001px;top:426.40000000000003px" width="6.6" height="8.4" viewBox="0 0 6.6 8.4"><path d="M0.1 0.3 H6.5 L4.2 3.3 V8.1 L2.4 6.9 V3.3Z" fill="#1a1a1a"/></svg>
<div style="left:978.1px;top:419.4px;width:1px;height:23.1px;background:#c2cfea;"></div>
<div class="t" style="top:425.20px;height:14px;line-height:14px;font-size:9.4px;color:#2a2a2a;left:983.0px;">Item Type</div>
<svg style="left:1056.3000000000002px;top:426.40000000000003px" width="6.6" height="8.4" viewBox="0 0 6.6 8.4"><path d="M0.1 0.3 H6.5 L4.2 3.3 V8.1 L2.4 6.9 V3.3Z" fill="#1a1a1a"/></svg>
<div style="left:1065.9px;top:419.4px;width:1px;height:23.1px;background:#c2cfea;"></div>
<div class="t" style="top:425.20px;height:14px;line-height:14px;font-size:9.4px;color:#2a2a2a;left:1070.6000000000001px;width:44.6px;overflow:hidden;">Item Name</div>
<div style="left:0;top:0;width:1420px;height:550.3px;overflow:hidden">
<div style="left:509.4px;top:460.5px;width:606.0000000000001px;height:1px;background:#d3ddf1;"></div>
<div class="t" style="top:445.70px;height:14px;line-height:14px;font-size:9.4px;color:#858b95;left:543px;">T</div>
<div class="t" style="top:445.70px;height:14px;line-height:14px;font-size:9.4px;color:#2a2a2a;right:769.80px;text-align:right;">-25.63</div>
<div class="t" style="top:445.70px;height:14px;line-height:14px;font-size:9.4px;color:#2a2a2a;left:659.8px;">EUR</div>
<div class="t" style="top:445.70px;height:14px;line-height:14px;font-size:9.4px;color:#858b95;right:621.40px;text-align:right;">-25.63</div>
<div class="t" style="top:445.70px;height:14px;line-height:14px;font-size:9.4px;color:#858b95;right:534.20px;text-align:right;">-25.63</div>
<div class="t" style="top:445.70px;height:14px;line-height:14px;font-size:9.4px;color:#858b95;right:443.40px;text-align:right;">-34.63</div>
<div class="t" style="top:445.70px;height:14px;line-height:14px;font-size:9.4px;color:#2a2a2a;left:986px;">Explained Item</div>
<div class="t" style="top:445.70px;height:14px;line-height:14px;font-size:9.4px;color:#2a2a2a;left:1070.2px;">320984</div>
<div style="left:509.4px;top:479.40000000000003px;width:606.0000000000001px;height:1px;background:#d3ddf1;"></div>
<div class="t" style="top:464.60px;height:14px;line-height:14px;font-size:9.4px;color:#858b95;left:543px;">T</div>
<div class="t" style="top:464.60px;height:14px;line-height:14px;font-size:9.4px;color:#2a2a2a;right:769.80px;text-align:right;">-624.78</div>
<div class="t" style="top:464.60px;height:14px;line-height:14px;font-size:9.4px;color:#2a2a2a;left:659.8px;">EUR</div>
<div class="t" style="top:464.60px;height:14px;line-height:14px;font-size:9.4px;color:#858b95;right:621.40px;text-align:right;">-624.78</div>
<div class="t" style="top:464.60px;height:14px;line-height:14px;font-size:9.4px;color:#858b95;right:534.20px;text-align:right;">-624.78</div>
<div class="t" style="top:464.60px;height:14px;line-height:14px;font-size:9.4px;color:#858b95;right:443.40px;text-align:right;">-844.08</div>
<div class="t" style="top:464.60px;height:14px;line-height:14px;font-size:9.4px;color:#2a2a2a;left:986px;">Explained Item</div>
<div class="t" style="top:464.60px;height:14px;line-height:14px;font-size:9.4px;color:#2a2a2a;left:1070.2px;">321151</div>
<div style="left:509.4px;top:498.3px;width:606.0000000000001px;height:1px;background:#d3ddf1;"></div>
<div class="t" style="top:483.50px;height:14px;line-height:14px;font-size:9.4px;color:#858b95;left:543px;">T</div>
<div class="t" style="top:483.50px;height:14px;line-height:14px;font-size:9.4px;color:#2a2a2a;right:769.80px;text-align:right;">-345.16</div>
<div class="t" style="top:483.50px;height:14px;line-height:14px;font-size:9.4px;color:#2a2a2a;left:659.8px;">EUR</div>
<div class="t" style="top:483.50px;height:14px;line-height:14px;font-size:9.4px;color:#858b95;right:621.40px;text-align:right;">-345.16</div>
<div class="t" style="top:483.50px;height:14px;line-height:14px;font-size:9.4px;color:#858b95;right:534.20px;text-align:right;">-345.16</div>
<div class="t" style="top:483.50px;height:14px;line-height:14px;font-size:9.4px;color:#858b95;right:443.40px;text-align:right;">-466.31</div>
<div class="t" style="top:483.50px;height:14px;line-height:14px;font-size:9.4px;color:#2a2a2a;left:986px;">Explained Item</div>
<div class="t" style="top:483.50px;height:14px;line-height:14px;font-size:9.4px;color:#2a2a2a;left:1070.2px;">321318</div>
<div style="left:509.4px;top:517.2px;width:606.0000000000001px;height:1px;background:#d3ddf1;"></div>
<div class="t" style="top:502.40px;height:14px;line-height:14px;font-size:9.4px;color:#858b95;left:543px;">T</div>
<div class="t" style="top:502.40px;height:14px;line-height:14px;font-size:9.4px;color:#2a2a2a;right:769.80px;text-align:right;">-123.75</div>
<div class="t" style="top:502.40px;height:14px;line-height:14px;font-size:9.4px;color:#2a2a2a;left:659.8px;">EUR</div>
<div class="t" style="top:502.40px;height:14px;line-height:14px;font-size:9.4px;color:#858b95;right:621.40px;text-align:right;">-123.75</div>
<div class="t" style="top:502.40px;height:14px;line-height:14px;font-size:9.4px;color:#858b95;right:534.20px;text-align:right;">-123.75</div>
<div class="t" style="top:502.40px;height:14px;line-height:14px;font-size:9.4px;color:#858b95;right:443.40px;text-align:right;">-167.19</div>
<div class="t" style="top:502.40px;height:14px;line-height:14px;font-size:9.4px;color:#2a2a2a;left:986px;">Explained Item</div>
<div class="t" style="top:502.40px;height:14px;line-height:14px;font-size:9.4px;color:#2a2a2a;left:1070.2px;">321485</div>
<div style="left:509.4px;top:536.1px;width:606.0000000000001px;height:1px;background:#d3ddf1;"></div>
<div class="t" style="top:521.30px;height:14px;line-height:14px;font-size:9.4px;color:#858b95;left:543px;">T</div>
<div class="t" style="top:521.30px;height:14px;line-height:14px;font-size:9.4px;color:#2a2a2a;right:769.80px;text-align:right;">-722.90</div>
<div class="t" style="top:521.30px;height:14px;line-height:14px;font-size:9.4px;color:#2a2a2a;left:659.8px;">EUR</div>
<div class="t" style="top:521.30px;height:14px;line-height:14px;font-size:9.4px;color:#858b95;right:621.40px;text-align:right;">-722.90</div>
<div class="t" style="top:521.30px;height:14px;line-height:14px;font-size:9.4px;color:#858b95;right:534.20px;text-align:right;">-722.90</div>
<div class="t" style="top:521.30px;height:14px;line-height:14px;font-size:9.4px;color:#858b95;right:443.40px;text-align:right;">-976.64</div>
<div class="t" style="top:521.30px;height:14px;line-height:14px;font-size:9.4px;color:#2a2a2a;left:986px;">Explained Item</div>
<div class="t" style="top:521.30px;height:14px;line-height:14px;font-size:9.4px;color:#2a2a2a;left:1070.2px;">321652</div>
<div style="left:509.4px;top:555.0px;width:606.0000000000001px;height:1px;background:#d3ddf1;"></div>
<div class="t" style="top:540.20px;height:14px;line-height:14px;font-size:9.4px;color:#858b95;left:543px;">T</div>
<div class="t" style="top:540.20px;height:14px;line-height:14px;font-size:9.4px;color:#2a2a2a;right:769.80px;text-align:right;">-443.28</div>
<div class="t" style="top:540.20px;height:14px;line-height:14px;font-size:9.4px;color:#2a2a2a;left:659.8px;">EUR</div>
<div class="t" style="top:540.20px;height:14px;line-height:14px;font-size:9.4px;color:#858b95;right:621.40px;text-align:right;">-443.28</div>
<div class="t" style="top:540.20px;height:14px;line-height:14px;font-size:9.4px;color:#858b95;right:534.20px;text-align:right;">-443.28</div>
<div class="t" style="top:540.20px;height:14px;line-height:14px;font-size:9.4px;color:#858b95;right:443.40px;text-align:right;">-598.87</div>
<div class="t" style="top:540.20px;height:14px;line-height:14px;font-size:9.4px;color:#2a2a2a;left:986px;">Explained Item</div>
<div class="t" style="top:540.20px;height:14px;line-height:14px;font-size:9.4px;color:#2a2a2a;left:1070.2px;">321819</div>
<div style="left:538.0px;top:442.5px;width:1px;height:107.79999999999995px;background:#d3ddf1;"></div>
<div style="left:563.7px;top:442.5px;width:1px;height:107.79999999999995px;background:#d3ddf1;"></div>
<div style="left:651.1px;top:442.5px;width:1px;height:107.79999999999995px;background:#d3ddf1;"></div>
<div style="left:712.7px;top:442.5px;width:1px;height:107.79999999999995px;background:#d3ddf1;"></div>
<div style="left:800.0px;top:442.5px;width:1px;height:107.79999999999995px;background:#d3ddf1;"></div>
<div style="left:887.1px;top:442.5px;width:1px;height:107.79999999999995px;background:#d3ddf1;"></div>
<div style="left:978.1px;top:442.5px;width:1px;height:107.79999999999995px;background:#d3ddf1;"></div>
<div style="left:1065.9px;top:442.5px;width:1px;height:107.79999999999995px;background:#d3ddf1;"></div>
</div>
<div style="left:509.2px;top:419.6px;width:1.6px;height:133px;background:linear-gradient(90deg,#555,#9aa);"></div>
<svg style="left:1118.8px;top:425px" width="1" height="1"><polygon points="-2.2,1.2100000000000002 2.2,1.2100000000000002 0,-1.2100000000000002" fill="#222"/></svg>
<svg style="left:1118.8px;top:546px" width="1" height="1"><polygon points="-2.2,-1.2100000000000002 2.2,-1.2100000000000002 0,1.2100000000000002" fill="#222"/></svg>
<div style="left:1117.6px;top:431.8px;width:2.6px;height:42.6px;background:#c3d1ee;border-radius:1.3px;"></div>
<svg style="left:514px;top:554.6px" width="1" height="1"><polygon points="1.2100000000000002,-2.2 1.2100000000000002,2.2 -1.2100000000000002,0" fill="#222"/></svg>
<svg style="left:1110.6px;top:554.8px" width="1" height="1"><polygon points="-1.2100000000000002,-2.2 -1.2100000000000002,2.2 1.2100000000000002,0" fill="#222"/></svg>
<div style="left:518px;top:553.6px;width:296px;height:2.2px;background:#c3d1ee;border-radius:1.1px;"></div>
<div style="left:508.4px;top:558.8px;width:616.1999999999999px;height:1px;background:#bfcdea;"></div>
<svg style="left:517.1px;top:567.8px" width="5" height="6" viewBox="0 0 5 6"><path d="M0.4 0.5V5.5" stroke="#b9bec6" stroke-width="0.9"/><polygon points="4.4,0.6 4.4,5.4 1.4,3" fill="#b9bec6"/></svg>
<svg style="left:535.1px;top:567.8px" width="5" height="6" viewBox="0 0 5 6"><polygon points="3.8,0.6 3.8,5.4 0.8,3" fill="#b9bec6"/></svg>
<div style="left:546.6px;top:562.3px;width:16.4px;height:17px;background:#3572b1;border-radius:50%;"></div>
<div class="t" style="top:563.90px;height:14px;line-height:14px;font-size:10.4px;color:#fff;left:404.90px;width:300px;text-align:center;">1</div>
<div style="left:565px;top:563.4px;width:14.8px;height:14.8px;background:#fff;border-radius:50%;border:1px solid #d8dde8;"></div>
<svg style="left:570.1px;top:567.8px" width="5" height="6" viewBox="0 0 5 6"><polygon points="1.2,0.6 1.2,5.4 4.2,3" fill="#777"/></svg>
<svg style="left:586.7px;top:567.8px" width="5" height="6" viewBox="0 0 5 6"><path d="M4.6 0.5V5.5" stroke="#b9bec6" stroke-width="0.9"/><polygon points="0.6,0.6 0.6,5.4 3.6,3" fill="#b9bec6"/></svg>
<div class="t" style="top:564.00px;height:14px;line-height:14px;font-size:9.4px;color:#2a2a2a;letter-spacing:-0.331px;left:987.5px;">14 Rows</div>
<div class="t" style="top:564.00px;height:14px;line-height:14px;font-size:9.4px;color:#2a2a2a;left:1058.8px;">Page</div>
<div class="t" style="top:564.00px;height:14px;line-height:14px;font-size:9.4px;color:#2a2a2a;left:1087.8px;">1</div>
<div class="t" style="top:564.00px;height:14px;line-height:14px;font-size:9.4px;color:#2a2a2a;left:1102px;">of 1</div>
<div style="left:508.4px;top:582.4px;width:616.1999999999999px;height:38.6px;background:#d3dff5;border-top:1px solid #a9bde3;border-radius:0 0 3px 3px;"></div>
<div style="left:1128.4px;top:582.4px;width:203.0px;height:38.6px;background:#d3dff5;border-top:1px solid #a9bde3;border-radius:0 0 3px 3px;"></div>
<div style="left:614.5px;top:584px;width:1px;height:37px;background:#c3d0ec;"></div>
<div style="left:720px;top:584px;width:1px;height:37px;background:#c3d0ec;"></div>
<div style="left:1283.6px;top:584px;width:1px;height:37px;background:#c3d0ec;"></div>
<svg style="left:529.3px;top:588.2px" width="13.70" height="15.30" viewBox="0 0 14 16" preserveAspectRatio="none"><path d="M10.5 11 V15.4 H0.6 V0.6 H10.5 V5" fill="none" stroke="#5078c2" stroke-width="1.1" stroke-linecap="round" stroke-linejoin="round"/><path d="M2.6 4H6M2.6 6.8H5M2.6 9.6H6M2.6 12.4H7.6" fill="none" stroke="#5078c2" stroke-width="0.9" stroke-linecap="round" stroke-linejoin="round"/><path d="M6.8 8 H13.4 M11 5.6 L13.4 8 L11 10.4" fill="none" stroke="#5078c2" stroke-width="1.1" stroke-linecap="round" stroke-linejoin="round"/></svg>
<div class="t" style="top:609.00px;height:14px;line-height:14px;font-size:7.8px;color:#8a8f98;letter-spacing:-0.004px;left:384.90px;width:300px;text-align:center;">Pull Items</div>
<svg style="left:580px;top:587.7px" width="15.80" height="16.20" viewBox="0 0 16 16" preserveAspectRatio="none"><path d="M15.4 10.8 V15.4 H0.6 V0.6 H15.4 V5.2" fill="none" stroke="#5078c2" stroke-width="1.1" stroke-linecap="round" stroke-linejoin="round"/><path d="M3 12.6 V3.6 H6 A2.3 2.3 0 0 1 6 8.2 H3 M5.8 8.2 L8.6 12.6" fill="none" stroke="#5078c2" stroke-width="1.45" stroke-linecap="round" stroke-linejoin="round"/><path d="M9.6 8 H15 M12.8 5.8 L15 8 L12.8 10.2" fill="none" stroke="#5078c2" stroke-width="1.1" stroke-linecap="round" stroke-linejoin="round"/></svg>
<div class="t" style="top:609.00px;height:14px;line-height:14px;font-size:7.8px;color:#8a8f98;letter-spacing:-0.085px;left:437.76px;width:300px;text-align:center;">Pull R-Doc</div>
<svg style="left:634.3px;top:588.2px" width="15.00" height="15.30" viewBox="0 0 15 15.5" preserveAspectRatio="none"><path d="M3.8 3.8 V0.6 H14.4 V11.2 H11.2" fill="none" stroke="#5078c2" stroke-width="1.1" stroke-linecap="round" stroke-linejoin="round"/><rect x="0.6" y="3.8" width="10.6" height="11.1" fill="none" stroke="#5078c2" stroke-width="1.1" stroke-linecap="round" stroke-linejoin="round"/><path d="M3.2 12.2 L11.6 3.6 M7.2 3.4 H11.8 V8" fill="none" stroke="#5078c2" stroke-width="1.1" stroke-linecap="round" stroke-linejoin="round"/></svg>
<div class="t" style="top:609.00px;height:14px;line-height:14px;font-size:7.8px;color:#8a8f98;letter-spacing:-0.024px;left:492.99px;width:300px;text-align:center;">T-Doc</div>
<svg style="left:686.6px;top:587.7px" width="13.70" height="16.20" viewBox="0 0 14 16" preserveAspectRatio="none"><rect x="0.6" y="0.6" width="12.8" height="14.8" fill="none" stroke="#5078c2" stroke-width="1.1" stroke-linecap="round" stroke-linejoin="round"/><rect x="2.8" y="2.8" width="8.4" height="3.6" fill="none" stroke="#5078c2" stroke-width="1.0" stroke-linecap="round" stroke-linejoin="round"/><path d="M2.8 8.4H11.2M2.8 10H11.2M2.8 11.6H11.2" fill="none" stroke="#5078c2" stroke-width="0.8" stroke-linecap="round" stroke-linejoin="round"/><path d="M2.8 13.4H7.2" fill="none" stroke="#5078c2" stroke-width="1.1" stroke-linecap="round" stroke-linejoin="round"/></svg>
<div class="t" style="top:609.00px;height:14px;line-height:14px;font-size:7.8px;color:#8a8f98;letter-spacing:0.066px;left:541.43px;width:300px;text-align:center;">Template</div>
<svg style="left:739.6px;top:588.1px" width="15.40" height="15.40" viewBox="0 0 15 15.5" preserveAspectRatio="none"><path d="M3.8 3.8 V0.6 H14.4 V11.2 H11.2" fill="none" stroke="#5078c2" stroke-width="1.1" stroke-linecap="round" stroke-linejoin="round"/><rect x="0.6" y="3.8" width="10.6" height="11.1" fill="none" stroke="#5078c2" stroke-width="1.1" stroke-linecap="round" stroke-linejoin="round"/><path d="M3.2 12.2 L11.6 3.6 M7.2 3.4 H11.8 V8" fill="none" stroke="#5078c2" stroke-width="1.1" stroke-linecap="round" stroke-linejoin="round"/></svg>
<div class="t" style="top:609.00px;height:14px;line-height:14px;font-size:7.8px;color:#8a8f98;letter-spacing:-0.068px;left:598.27px;width:300px;text-align:center;">S-Doc</div>
<svg style="left:791.2px;top:587.7px" width="15.80" height="15.80" viewBox="0 0 16 16" preserveAspectRatio="none"><path d="M10.4 1.8 H15.4 V15.4 H1.8 V12.2" fill="none" stroke="#5078c2" stroke-width="1.1" stroke-linecap="round" stroke-linejoin="round"/><circle cx="6.8" cy="6.8" r="6.2" fill="none" stroke="#5078c2" stroke-width="1.1" stroke-linecap="round" stroke-linejoin="round"/><path d="M11.2 11.2 L13.4 13.4" fill="none" stroke="#5078c2" stroke-width="1.2" stroke-linecap="round" stroke-linejoin="round"/></svg>
<div class="t" style="top:609.00px;height:14px;line-height:14px;font-size:7.8px;color:#8a8f98;letter-spacing:0.023px;left:648.51px;width:300px;text-align:center;">S-Items</div>
<svg style="left:935.6px;top:587.1px" width="13.10" height="16.30" viewBox="0 0 13 16" preserveAspectRatio="none"><rect x="0.6" y="0.6" width="11.8" height="14.8" fill="none" stroke="#5078c2" stroke-width="1.1" stroke-linecap="round" stroke-linejoin="round"/><path d="M2.8 4.2L3.5 4.9L4.7 3.6M2.8 7.9L3.5 8.6L4.7 7.3M2.8 11.6L3.5 12.3L4.7 11" fill="none" stroke="#5078c2" stroke-width="0.85" stroke-linecap="round" stroke-linejoin="round"/><path d="M6.4 4.3H10M6.4 8H10M6.4 11.7H10" fill="none" stroke="#5078c2" stroke-width="1.0" stroke-linecap="round" stroke-linejoin="round"/></svg>
<div class="t" style="top:608.70px;height:14px;line-height:14px;font-size:7.8px;color:#8a8f98;letter-spacing:0.039px;left:790.32px;width:300px;text-align:center;">History</div>
<svg style="left:986.5px;top:587.5px" width="15.70" height="15.70" viewBox="0 0 16 16" preserveAspectRatio="none"><path d="M3.3 12.6 A7.2 7 0 1 1 6.2 14.4 L1 15.4 Z" fill="none" stroke="#5078c2" stroke-width="1.1" stroke-linecap="round" stroke-linejoin="round"/></svg>
<div class="t" style="top:608.70px;height:14px;line-height:14px;font-size:7.8px;color:#8a8f98;letter-spacing:0.042px;left:843.52px;width:300px;text-align:center;">Comments</div>
<svg style="left:1040.2px;top:587.5px" width="15.10" height="15.50" viewBox="0 0 15 15.5" preserveAspectRatio="none"><path d="M3.8 3 V0.6 H14.4 V12.4 H11.4" fill="none" stroke="#5078c2" stroke-width="1.1" stroke-linecap="round" stroke-linejoin="round"/><rect x="0.6" y="3" width="10.8" height="11.9" fill="none" stroke="#5078c2" stroke-width="1.1" stroke-linecap="round" stroke-linejoin="round"/><path d="M2.8 6H9.2M2.8 8.4H9.2M2.8 10.8H9.2" fill="none" stroke="#5078c2" stroke-width="1.0" stroke-linecap="round" stroke-linejoin="round"/></svg>
<div class="t" style="top:608.70px;height:14px;line-height:14px;font-size:7.8px;color:#8a8f98;letter-spacing:-0.177px;left:896.91px;width:300px;text-align:center;">Reports</div>
<svg style="left:1090px;top:586.8px" width="16.40" height="16.20" viewBox="0 0 16.4 16.2" preserveAspectRatio="none"><path d="M0.6 8 L8.2 12.6 L15.8 8 V15.6 H0.6Z" fill="none" stroke="#5078c2" stroke-width="1.1" stroke-linecap="round" stroke-linejoin="round"/><path d="M0.6 15.6 L6 10.8 M15.8 15.6 L10.4 10.8" fill="none" stroke="#5078c2" stroke-width="1.0" stroke-linecap="round" stroke-linejoin="round"/><path d="M3.2 9.4 V0.6 H13.2 V9.4" fill="none" stroke="#5078c2" stroke-width="1.1" stroke-linecap="round" stroke-linejoin="round"/><path d="M8.2 2.6 V6.6 M6.6 5.2 L8.2 6.8 L9.8 5.2 M6 8 H10.4" fill="none" stroke="#5078c2" stroke-width="0.9" stroke-linecap="round" stroke-linejoin="round"/><path d="M0.6 8 L3.2 6.2 M15.8 8 L13.2 6.2" fill="none" stroke="#5078c2" stroke-width="1.0" stroke-linecap="round" stroke-linejoin="round"/></svg>
<div class="t" style="top:608.70px;height:14px;line-height:14px;font-size:7.8px;color:#8a8f98;letter-spacing:0.367px;left:948.58px;width:300px;text-align:center;">Audit</div>
<svg style="left:1147px;top:587.1px" width="16.90" height="16.30" viewBox="0 0 16 16" preserveAspectRatio="none"><path d="M10.4 1.8 H15.4 V15.4 H1.8 V12.2" fill="none" stroke="#5078c2" stroke-width="1.1" stroke-linecap="round" stroke-linejoin="round"/><circle cx="6.8" cy="6.8" r="6.2" fill="none" stroke="#5078c2" stroke-width="1.1" stroke-linecap="round" stroke-linejoin="round"/><path d="M11.2 11.2 L13.4 13.4" fill="none" stroke="#5078c2" stroke-width="1.2" stroke-linecap="round" stroke-linejoin="round"/></svg>
<div class="t" style="top:608.70px;height:14px;line-height:14px;font-size:7.8px;color:#8a8f98;letter-spacing:-0.089px;left:1003.76px;width:300px;text-align:center;">View</div>
<svg style="left:1200.6px;top:587.1px" width="11.40" height="16.00" viewBox="0 0 11.4 16" preserveAspectRatio="none"><path d="M0.7 5 V11.4 A4 4 0 0 0 8.7 11.4 V3.6 A2.8 2.8 0 0 0 3.1 3.6 V10.8 A1.3 1.3 0 0 0 5.7 10.8 V5.2" fill="none" stroke="#5078c2" stroke-width="1.1" stroke-linecap="round" stroke-linejoin="round"/><path d="M10.4 1.4 V8.4" fill="none" stroke="#5078c2" stroke-width="1.7" stroke-linecap="round" stroke-linejoin="round"/></svg>
<div class="t" style="top:608.70px;height:14px;line-height:14px;font-size:7.8px;color:#8a8f98;letter-spacing:0.09px;left:1056.35px;width:300px;text-align:center;">I-Doc</div>
<svg style="left:1249.5px;top:587.1px" width="15.00" height="16.00" viewBox="0 0 15 16" preserveAspectRatio="none"><path d="M0.7 5 V11.4 A4 4 0 0 0 8.7 11.4 V3.6 A2.8 2.8 0 0 0 3.1 3.6 V10.8 A1.3 1.3 0 0 0 5.7 10.8 V5.2" fill="none" stroke="#5078c2" stroke-width="1.1" stroke-linecap="round" stroke-linejoin="round"/><text x="12" y="9.6" font-family="Liberation Sans, sans-serif" font-size="10.6" font-weight="bold" fill="#5078c2" text-anchor="middle">R</text></svg>
<div class="t" style="top:608.70px;height:14px;line-height:14px;font-size:7.8px;color:#8a8f98;letter-spacing:-0.148px;left:1106.23px;width:300px;text-align:center;">R-Doc</div>
<svg style="left:1302.6px;top:587.1px" width="14.80" height="15.90" viewBox="0 0 15 16" preserveAspectRatio="none"><path d="M0.6 3.8 H14.4 M4.6 3.8 V0.8 H10.4 V3.8" fill="none" stroke="#e27272" stroke-width="1.1" stroke-linecap="round" stroke-linejoin="round"/><path d="M2 3.8 L2.8 15.4 H12.2 L13 3.8" fill="none" stroke="#e27272" stroke-width="1.1" stroke-linecap="round" stroke-linejoin="round"/><path d="M5.2 6.6V12M7.5 6.6V12M9.8 6.6V12" fill="none" stroke="#e27272" stroke-width="0.9" stroke-linecap="round" stroke-linejoin="round"/><rect x="4" y="5.8" width="7" height="7" rx="0.6" fill="none" stroke="#e27272" stroke-width="0.8" stroke-linecap="round" stroke-linejoin="round"/></svg>
<div class="t" style="top:608.70px;height:14px;line-height:14px;font-size:7.8px;color:#8a8f98;letter-spacing:-0.009px;left:1159.30px;width:300px;text-align:center;">Delete</div>
<div style="left:1130.4px;top:421px;width:13.8px;height:17.4px;background:#dde6f7;"></div>
<div class="t" style="top:422.60px;height:14px;line-height:14px;font-size:9.4px;color:#444;left:1133.9px;">T</div>
<div class="t" style="top:422.60px;height:14px;line-height:14px;font-size:9.4px;color:#2a2a2a;left:1148px;width:181px;overflow:hidden;">Frankfurt OS Check List - Mar 2018.xlsx  6/</div>
<svg style="left:1134.4px;top:576.3px" width="1" height="1"><polygon points="1.2100000000000002,-2.2 1.2100000000000002,2.2 -1.2100000000000002,0" fill="#222"/></svg>
<svg style="left:1325.8px;top:576.3px" width="1" height="1"><polygon points="-1.2100000000000002,-2.2 -1.2100000000000002,2.2 1.2100000000000002,0" fill="#222"/></svg>
<div style="left:1138.8px;top:575.2px;width:122.4px;height:2.2px;background:#c3d1ee;border-radius:1.1px;"></div>
<div style="left:1128.4px;top:581.6px;width:203.0px;height:1px;background:#a9bde3;"></div>
<div style="left:1281.4px;top:633.8px;width:43.6px;height:17px;background:#e6edfa;border:1px solid #a9bde3;border-radius:2px;"></div>
<div class="t" style="top:635.50px;height:14px;line-height:14px;font-size:9.6px;color:#222;letter-spacing:-0.32px;left:1152.74px;width:300px;text-align:center;">Close</div>
<svg style="left:582.6px;top:186.2px" width="13.4" height="20.4" viewBox="0 0 13.4 20.4"><path d="M0.9 0.9 V16.8 L4.5 13.4 L7.4 19.4 L9.8 18.3 L6.9 12.5 H12.2Z" fill="#fff" stroke="#111" stroke-width="1.05" stroke-linejoin="miter"/></svg>
</body></html>
